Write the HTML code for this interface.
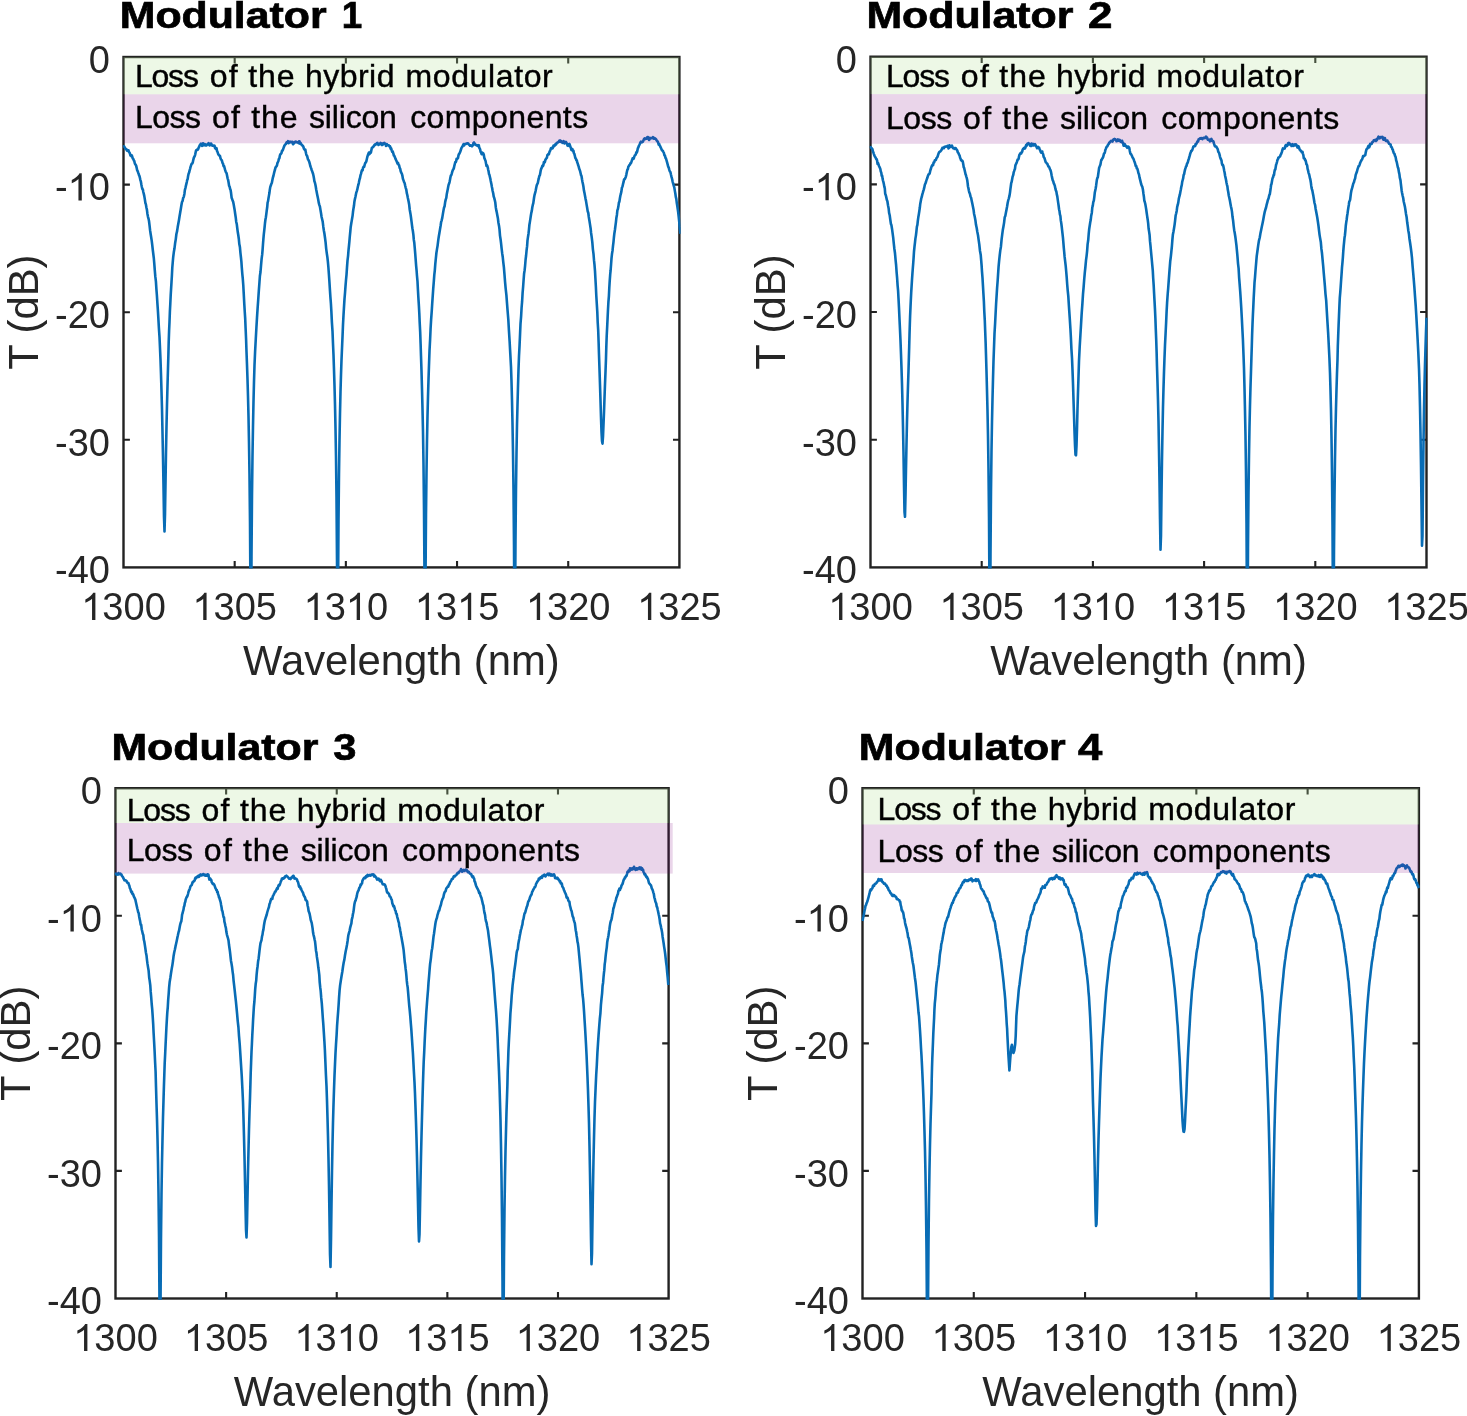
<!DOCTYPE html>
<html><head><meta charset="utf-8"><title>Modulators</title>
<style>html,body{margin:0;padding:0;background:#fff;overflow:hidden;}svg{display:block;will-change:transform;}
text{font-family:"Liberation Sans", sans-serif;}</style></head><body>
<svg width="1467" height="1416" viewBox="0 0 1467 1416">
<rect width="1467" height="1416" fill="#fff"/>
<defs>
<clipPath id="c0"><rect x="122.3" y="55.8" width="558.3" height="512.8"/></clipPath>
<clipPath id="c1"><rect x="869.3" y="55.5" width="558.4" height="513.1"/></clipPath>
<clipPath id="c2"><rect x="114.3" y="787.0" width="555.5" height="512.7"/></clipPath>
<clipPath id="c3"><rect x="861.3" y="787.0" width="558.8" height="512.7"/></clipPath>
</defs>
<rect x="123.5" y="57.0" width="555.9" height="510.4" fill="none" stroke="#222222" stroke-width="2.4"/>
<path d="M234.68,567.4V561.00M234.68,57.0V63.40M345.86,567.4V561.00M345.86,57.0V63.40M457.04,567.4V561.00M457.04,57.0V63.40M568.22,567.4V561.00M568.22,57.0V63.40M123.5,184.60H129.90M679.4,184.60H673.00M123.5,312.20H129.90M679.4,312.20H673.00M123.5,439.80H129.90M679.4,439.80H673.00" stroke="#222222" stroke-width="2.1" fill="none"/>
<path d="M123.5,147.0 124.0,146.3 124.5,147.0 125.0,148.0 125.5,149.0 126.0,148.8 126.5,149.6 127.0,150.6 127.5,150.1 128.0,150.2 128.5,150.3 128.9,151.9 129.4,152.5 129.9,153.4 130.4,155.5 130.9,155.6 131.4,156.2 131.8,155.4 132.3,157.0 132.8,158.6 133.3,159.0 133.8,160.4 134.3,161.1 134.7,163.0 135.2,164.2 135.7,164.8 136.2,165.9 136.6,167.6 137.1,170.1 137.6,171.0 138.1,172.4 138.5,173.4 139.0,175.1 139.5,176.1 140.0,178.3 140.4,180.1 140.9,181.7 141.4,184.7 141.8,186.8 142.3,189.0 142.8,189.3 143.3,192.0 143.8,193.9 144.3,196.1 144.8,199.1 145.4,203.0 145.9,204.4 146.4,207.5 146.9,209.6 147.4,213.7 148.0,216.8 148.5,218.6 149.0,221.0 149.6,225.9 150.1,230.4 150.6,233.7 151.1,236.7 151.7,240.6 152.2,244.7 152.8,250.0 153.3,254.0 153.8,258.0 154.3,263.8 154.8,270.4 155.3,276.4 155.9,281.4 156.4,289.1 156.9,295.5 157.4,303.3 157.9,310.7 158.4,319.1 158.9,328.1 159.5,336.9 160.0,348.2 160.5,359.9 161.0,374.5 161.5,391.1 162.0,409.0 162.5,432.7 163.0,457.1 163.5,486.0 164.0,517.0 164.5,531.5 165.0,514.5 165.5,483.6 166.0,452.2 166.5,426.4 167.0,404.5 167.5,385.6 168.0,368.3 168.4,354.4 168.7,342.1 169.1,330.6 169.5,322.0 169.9,311.3 170.3,303.7 170.7,295.1 171.1,288.6 171.5,282.1 171.9,275.5 172.3,267.5 172.8,261.6 173.2,257.1 173.8,252.3 174.5,248.3 175.1,243.3 175.8,239.1 176.4,234.0 177.1,231.1 177.7,227.1 178.3,223.8 178.9,220.4 179.6,216.0 180.2,212.6 180.8,209.0 181.4,205.3 182.0,202.0 182.6,200.9 183.2,197.8 183.8,196.8 184.4,193.9 184.9,189.8 185.4,188.1 185.8,186.3 186.3,184.1 186.8,182.1 187.2,180.1 187.7,178.9 188.1,176.0 188.6,173.8 189.1,172.6 189.5,170.9 190.0,169.1 190.5,167.1 190.9,165.8 191.4,164.3 191.9,163.6 192.4,163.3 192.8,162.2 193.3,159.8 193.8,157.9 194.3,156.8 194.7,156.2 195.2,154.6 195.7,152.1 196.1,150.3 196.6,150.4 197.1,149.5 197.6,149.8 198.1,149.4 198.5,148.0 199.0,147.1 199.5,145.8 200.0,144.7 200.5,144.3 201.0,143.7 201.5,144.8 202.0,145.8 202.5,145.2 203.0,143.2 203.5,143.8 204.0,145.3 204.5,145.1 205.0,144.1 205.5,145.4 206.0,144.7 206.5,145.4 207.0,144.4 207.5,144.2 208.0,144.4 208.5,143.2 209.0,144.4 209.5,145.3 210.0,143.9 210.5,145.1 211.0,143.5 211.5,144.3 212.0,145.6 212.5,145.6 213.0,145.6 213.5,145.6 214.0,146.1 214.5,145.6 215.0,148.1 215.5,148.6 216.0,149.0 216.5,148.1 217.0,150.9 217.5,151.8 218.0,153.5 218.5,154.7 219.0,155.0 219.5,155.8 220.0,156.0 220.5,158.3 221.0,159.4 221.5,159.9 222.0,160.9 222.5,163.0 223.0,163.6 223.6,166.2 224.1,166.1 224.6,168.0 225.1,169.9 225.6,171.4 226.1,172.6 226.6,173.3 227.1,175.8 227.6,178.3 228.1,179.8 228.6,182.6 229.1,185.8 229.6,186.6 230.1,188.9 230.6,190.0 231.1,193.3 231.6,197.7 232.1,198.9 232.7,200.8 233.2,201.9 233.7,204.6 234.2,207.5 234.7,210.3 235.2,214.0 235.7,217.2 236.2,221.7 236.8,224.3 237.3,228.5 237.8,232.3 238.3,235.3 238.8,238.7 239.3,244.1 239.9,246.9 240.4,252.6 240.9,257.0 241.4,261.9 241.8,267.7 242.3,273.8 242.8,278.9 243.3,285.5 243.7,292.9 244.2,302.4 244.7,311.0 245.2,318.6 245.6,328.2 246.1,339.7 246.5,351.8 247.0,364.9 247.5,379.2 248.0,396.3 248.5,416.5 249.0,443.0 249.5,475.2 250.0,522.5 250.5,598.6 251.0,659.0 251.5,556.7 252.0,495.3 252.5,455.4 253.0,426.1 253.5,401.5 254.0,381.5 254.5,365.3 255.1,351.5 255.8,338.5 256.4,327.8 257.0,317.6 257.6,308.3 258.2,300.0 258.8,291.1 259.4,283.0 259.9,276.0 260.5,272.0 261.1,264.6 261.6,258.9 262.2,254.4 262.6,249.6 263.0,244.0 263.4,238.9 263.8,234.4 264.2,230.8 264.6,227.2 265.0,223.0 265.4,219.8 265.9,217.2 266.3,214.2 266.7,210.8 267.2,207.3 267.6,202.6 268.0,201.4 268.5,198.3 268.9,195.9 269.4,193.1 269.8,189.8 270.3,186.9 270.8,185.5 271.3,184.0 271.8,183.0 272.3,180.6 272.9,177.5 273.4,176.0 273.9,173.7 274.4,171.6 274.9,170.0 275.4,167.9 275.9,166.9 276.4,166.3 276.9,165.7 277.4,163.1 277.9,162.1 278.4,160.9 278.9,158.8 279.4,158.3 279.9,155.5 280.4,154.2 281.0,153.7 281.5,153.0 282.0,150.7 282.5,150.6 283.0,149.6 283.5,148.1 284.0,146.7 284.5,145.7 285.0,144.6 285.5,144.3 286.0,143.9 286.5,142.4 287.0,142.0 287.5,142.5 288.0,141.2 288.5,143.2 289.0,142.8 289.5,142.1 290.0,141.5 290.5,141.8 291.0,142.3 291.5,141.9 292.0,142.2 292.5,141.9 293.0,144.3 293.5,143.3 294.0,143.5 294.5,142.4 295.0,141.8 295.5,141.5 296.0,142.2 296.5,141.9 297.0,142.4 297.5,142.2 298.0,142.4 298.5,143.1 299.0,141.4 299.5,141.4 300.0,143.6 300.5,142.8 301.0,144.2 301.5,144.4 302.0,145.0 302.4,145.7 302.9,145.8 303.4,146.8 303.9,148.7 304.3,149.2 304.8,149.8 305.3,149.6 305.7,151.7 306.2,154.1 306.6,155.4 307.1,155.9 307.6,157.9 308.0,159.5 308.5,159.9 309.0,161.2 309.4,162.3 309.9,164.2 310.3,166.0 310.8,167.4 311.3,168.7 311.7,170.2 312.2,171.3 312.6,172.5 313.1,174.0 313.5,175.7 314.0,178.5 314.4,181.2 314.8,182.2 315.3,184.3 315.7,186.3 316.2,189.5 316.6,191.6 317.1,194.2 317.7,197.0 318.2,199.6 318.8,202.9 319.3,204.9 319.9,206.5 320.5,210.1 321.0,213.0 321.6,217.0 322.2,219.5 322.7,221.6 323.3,226.7 323.9,230.7 324.4,233.5 325.0,237.8 325.6,242.4 326.2,248.8 326.8,253.3 327.4,257.4 327.9,261.8 328.4,267.5 328.9,274.4 329.4,281.5 329.9,289.6 330.4,297.2 330.9,303.5 331.4,312.1 331.9,322.4 332.5,331.1 333.0,343.8 333.5,355.0 334.0,369.7 334.5,385.8 335.0,404.6 335.5,428.1 336.0,456.9 336.5,497.6 337.0,559.6 337.5,661.0 338.0,598.0 338.5,521.6 339.0,473.7 339.5,440.0 340.0,413.6 340.5,391.4 341.0,374.6 341.5,360.0 342.0,348.5 342.5,337.0 343.0,324.6 343.5,315.2 344.0,306.9 344.5,298.8 345.0,293.0 345.5,286.1 346.0,280.0 346.5,274.8 347.0,267.3 347.5,260.6 348.1,255.6 348.5,250.3 348.9,246.5 349.4,241.4 349.8,236.5 350.3,231.5 350.7,227.0 351.2,223.8 351.7,220.9 352.1,218.5 352.6,215.6 353.0,211.8 353.5,208.4 354.0,205.6 354.4,201.7 354.9,199.1 355.4,197.0 355.8,195.0 356.3,192.6 356.8,191.1 357.3,189.4 357.9,186.5 358.4,184.7 358.9,182.6 359.5,179.5 360.0,178.0 360.5,175.2 361.0,173.9 361.6,171.3 362.1,170.0 362.6,170.3 363.1,167.6 363.7,166.5 364.2,166.7 364.7,164.7 365.2,163.0 365.7,162.6 366.3,161.4 366.8,159.3 367.3,157.0 367.8,155.4 368.3,153.9 368.8,152.7 369.3,154.3 369.9,153.5 370.4,151.8 370.9,152.6 371.4,150.0 371.9,147.9 372.4,147.6 373.0,146.9 373.5,146.6 374.0,145.6 374.5,144.9 375.0,144.4 375.5,144.8 376.0,143.9 376.5,144.0 377.0,143.0 377.5,142.9 378.0,144.2 378.5,145.0 379.0,144.3 379.5,144.3 380.0,143.6 380.5,142.9 381.0,143.1 381.5,144.5 382.0,145.0 382.5,143.9 383.0,144.5 383.5,143.2 384.0,143.4 384.5,143.0 385.0,143.8 385.5,143.8 386.0,146.0 386.5,145.2 387.0,144.2 387.5,144.9 388.0,145.4 388.5,145.3 389.0,145.5 389.6,146.6 390.1,146.4 390.6,148.6 391.1,148.2 391.7,150.4 392.2,151.7 392.7,151.3 393.3,153.3 393.8,155.4 394.3,155.8 394.9,157.2 395.4,158.7 395.9,159.7 396.4,160.8 397.0,162.1 397.5,163.5 398.0,162.8 398.6,164.8 399.1,165.2 399.7,168.0 400.2,168.7 400.7,171.2 401.3,172.8 401.8,173.6 402.4,175.7 402.9,178.8 403.5,180.4 404.0,181.8 404.6,183.0 405.2,185.8 405.7,187.8 406.3,189.7 406.8,193.1 407.3,195.0 407.8,197.7 408.2,199.5 408.7,202.1 409.2,204.8 409.7,209.5 410.1,211.7 410.6,214.6 411.1,218.2 411.5,221.4 412.0,225.4 412.4,228.3 412.9,231.3 413.4,234.9 413.8,239.7 414.3,242.8 414.7,247.3 415.2,253.4 415.6,258.7 416.1,265.4 416.6,270.7 417.0,276.0 417.5,281.5 417.9,289.2 418.4,298.1 418.9,305.8 419.3,313.2 419.7,322.7 420.2,332.4 420.6,343.7 421.0,356.0 421.5,371.0 422.0,389.1 422.5,408.9 423.0,431.6 423.5,464.2 424.0,509.2 424.5,575.7 425.0,668.5 425.5,581.7 426.0,514.7 426.5,472.7 427.0,440.5 427.5,415.9 428.0,396.4 428.5,379.6 429.0,365.0 429.5,351.0 430.1,339.7 430.6,328.3 431.1,319.9 431.7,311.6 432.2,303.7 432.7,296.4 433.2,289.2 433.8,281.7 434.3,274.8 434.8,270.3 435.3,263.8 435.8,258.9 436.4,253.0 437.0,249.1 437.6,245.6 438.2,240.7 438.8,236.4 439.4,233.1 440.0,229.4 440.6,225.8 441.1,222.2 441.7,220.3 442.3,217.6 442.9,213.9 443.5,210.4 444.0,207.8 444.6,206.2 445.2,201.9 445.7,199.6 446.3,197.8 446.8,193.9 447.4,191.0 447.9,188.5 448.3,186.3 448.7,184.4 449.1,183.7 449.6,181.8 450.0,179.7 450.4,177.6 450.8,175.7 451.3,175.1 451.7,173.9 452.1,172.3 452.6,170.7 453.0,169.7 453.5,169.2 453.9,168.0 454.4,165.6 454.8,164.0 455.3,162.0 455.7,162.3 456.2,161.0 456.6,158.7 457.1,159.2 457.5,158.4 458.0,158.0 458.5,155.3 458.9,154.2 459.4,153.6 459.9,152.5 460.3,151.6 460.8,150.0 461.3,148.5 461.7,147.5 462.2,146.9 462.7,145.9 463.1,145.0 463.6,144.0 464.1,145.5 464.5,144.6 465.0,144.1 465.5,143.8 466.0,143.9 466.5,143.8 467.0,143.3 467.5,143.2 468.0,143.2 468.5,144.1 469.0,144.8 469.5,144.9 470.0,145.7 470.5,145.2 471.0,145.2 471.5,145.9 472.0,146.4 472.5,145.6 473.0,145.2 473.5,142.9 474.0,142.5 474.5,143.5 475.0,144.0 475.5,144.7 476.0,145.1 476.5,145.1 477.0,145.1 477.4,145.8 477.9,145.4 478.4,145.7 478.8,145.2 479.3,147.9 479.7,148.3 480.2,149.7 480.6,151.8 481.1,152.4 481.6,154.2 482.0,154.3 482.5,152.7 482.9,153.2 483.4,153.6 483.8,154.7 484.3,157.9 484.7,158.8 485.2,160.1 485.6,161.1 486.0,163.4 486.5,166.0 486.9,165.1 487.3,165.8 487.8,167.5 488.2,169.8 488.6,171.4 489.0,174.1 489.4,174.7 489.8,176.5 490.3,178.6 490.7,180.8 491.1,182.7 491.5,184.6 491.9,187.0 492.2,188.3 492.6,190.7 493.2,193.3 493.7,196.5 494.2,197.9 494.7,199.8 495.3,202.6 495.8,207.4 496.3,210.4 496.8,212.5 497.4,215.8 497.9,218.3 498.4,222.5 499.0,225.7 499.5,229.4 500.0,235.6 500.6,239.5 501.1,243.6 501.6,248.3 502.2,253.4 502.7,256.7 503.3,262.3 503.9,267.4 504.5,274.7 505.1,282.4 505.7,288.8 506.4,295.1 507.0,303.2 507.6,310.9 508.3,319.3 508.9,329.9 509.6,341.0 510.3,353.9 511.0,366.7 511.5,381.5 512.0,400.4 512.5,423.7 513.0,452.5 513.5,490.1 514.0,544.9 514.5,640.9 515.0,621.5 515.5,539.5 516.0,489.0 516.5,452.8 517.0,425.1 517.5,404.7 518.0,386.4 518.5,369.4 519.0,356.0 519.5,346.6 520.0,335.4 520.5,323.8 521.1,316.4 521.6,307.5 522.1,301.7 522.6,292.9 523.1,287.0 523.6,280.0 524.1,273.5 524.6,270.4 525.1,265.6 525.6,259.5 526.1,255.5 526.6,250.2 527.1,246.2 527.5,240.4 528.0,236.9 528.5,233.7 529.0,229.2 529.4,224.8 529.9,221.9 530.4,218.6 530.9,215.3 531.3,212.9 531.8,210.9 532.3,207.3 532.8,204.9 533.3,203.2 533.8,199.5 534.2,196.7 534.7,194.3 535.2,192.7 535.7,190.5 536.2,187.8 536.7,185.4 537.2,184.3 537.8,182.9 538.3,180.4 538.8,178.4 539.3,176.0 539.8,175.4 540.3,172.9 540.8,170.1 541.3,168.5 541.8,167.6 542.3,165.9 542.9,166.1 543.4,165.0 543.9,162.0 544.4,162.5 544.9,162.0 545.4,159.7 545.9,159.1 546.4,158.2 546.9,157.8 547.4,154.9 547.9,154.7 548.4,153.9 548.9,154.3 549.4,152.2 549.9,151.2 550.4,150.0 551.0,148.1 551.5,147.9 552.0,148.5 552.5,148.5 553.0,147.4 553.5,145.6 554.0,146.3 554.5,145.8 555.0,145.2 555.5,144.1 556.0,144.5 556.5,143.6 557.0,142.7 557.5,142.6 558.0,142.5 558.5,141.8 559.0,141.4 559.5,140.5 560.0,141.7 560.5,140.7 561.0,141.1 561.5,142.1 562.0,142.2 562.5,142.8 563.0,142.2 563.5,141.1 564.0,143.0 564.5,143.4 565.0,142.2 565.5,142.5 566.0,141.9 566.5,143.4 567.0,143.5 567.5,145.6 568.0,145.8 568.5,144.9 569.0,144.3 569.4,143.9 569.9,145.2 570.4,146.9 570.9,147.9 571.4,150.0 571.9,149.1 572.4,149.1 572.9,151.1 573.4,150.6 573.9,153.2 574.3,153.7 574.8,155.6 575.3,158.0 575.8,158.3 576.3,160.2 576.8,160.2 577.2,162.3 577.7,163.5 578.2,165.3 578.7,166.6 579.2,168.7 579.6,169.6 580.1,171.1 580.6,173.2 581.1,175.4 581.5,176.0 582.0,179.3 582.5,182.1 582.9,183.8 583.4,186.4 583.9,190.3 584.4,192.6 584.9,195.3 585.5,198.6 586.0,200.9 586.6,204.6 587.1,207.5 587.7,211.3 588.3,213.0 588.8,217.0 589.4,220.5 590.0,224.4 590.6,228.2 591.1,233.0 591.7,237.1 592.3,242.1 592.9,249.3 593.5,253.8 594.0,260.2 594.5,264.9 595.0,271.1 595.4,278.2 595.9,287.3 596.3,295.8 596.8,303.9 597.3,312.2 597.7,322.2 598.2,330.5 598.6,341.8 599.0,354.7 599.5,369.5 600.0,384.7 600.5,400.8 601.0,417.4 601.5,432.0 602.0,440.9 602.5,443.6 603.0,436.7 603.5,424.5 604.0,412.2 604.5,397.9 605.0,384.1 605.5,371.7 606.0,358.3 606.3,347.3 606.7,336.0 607.2,326.3 607.6,317.9 608.0,309.5 608.4,302.2 608.9,296.1 609.3,287.7 609.7,281.1 610.2,274.4 610.6,270.5 611.1,264.0 611.5,258.3 612.0,253.8 612.5,250.9 613.0,245.8 613.5,241.8 613.9,237.5 614.4,233.2 614.9,230.0 615.4,226.1 615.9,222.3 616.4,217.7 616.9,214.9 617.4,210.2 617.9,209.0 618.4,206.3 618.9,202.6 619.4,201.6 619.9,198.2 620.4,195.5 620.9,193.7 621.4,191.4 621.9,187.8 622.5,186.4 623.0,184.2 623.6,181.9 624.1,179.3 624.6,179.4 625.2,178.4 625.7,177.1 626.3,174.8 626.8,172.2 627.3,170.0 627.9,169.0 628.4,166.6 628.9,166.0 629.5,164.7 630.0,164.7 630.5,163.1 631.0,163.1 631.6,161.3 632.1,160.1 632.6,158.3 633.1,158.5 633.7,158.7 634.2,156.9 634.7,155.6 635.2,155.0 635.7,154.7 636.3,152.3 636.8,152.5 637.3,151.0 637.8,148.4 638.3,147.5 638.8,146.0 639.4,144.8 639.9,143.7 640.4,142.4 640.9,141.7 641.4,141.9 641.9,142.4 642.4,141.8 642.9,141.6 643.4,140.5 644.0,139.1 644.5,138.4 645.0,139.1 645.5,138.7 646.0,138.5 646.5,138.7 647.0,137.4 647.5,137.0 648.0,137.0 648.5,138.2 649.0,139.9 649.5,139.5 650.0,137.9 650.5,138.1 651.0,138.0 651.5,138.2 652.0,137.9 652.5,138.1 653.0,137.1 653.5,138.0 654.0,138.7 654.5,138.1 655.0,138.4 655.6,138.8 656.1,139.4 656.6,140.4 657.1,141.0 657.6,141.5 658.1,142.4 658.7,144.7 659.2,144.0 659.7,145.3 660.2,146.5 660.7,147.4 661.3,148.7 661.8,150.0 662.3,150.6 662.8,150.7 663.4,152.1 663.9,152.9 664.4,155.3 665.0,155.7 665.5,158.0 666.0,158.5 666.6,160.6 667.1,162.4 667.7,164.6 668.2,166.7 668.8,167.9 669.3,169.9 669.8,171.3 670.4,172.0 671.0,174.8 671.5,176.9 672.1,179.0 672.6,181.6 673.2,183.7 673.8,185.8 674.3,187.5 674.9,191.1 675.4,194.0 675.8,196.9 676.3,198.9 676.8,203.1 677.3,206.1 677.7,208.9 678.2,212.3 678.7,216.9 679.2,221.5 679.6,226.7 680.1,230.6 680.5,233.8" fill="none" stroke="#086CB5" stroke-width="2.6" stroke-linejoin="round" clip-path="url(#c0)"/>
<rect x="123.5" y="57.0" width="555.9" height="37.3" fill="rgb(183,227,155)" fill-opacity="0.25"/>
<rect x="123.5" y="94.3" width="555.9" height="49.0" fill="rgb(128,0,128)" fill-opacity="0.165"/>
<text x="134.92" y="86.90" font-size="32" textLength="63.99" lengthAdjust="spacing" fill="#000" stroke="#000" stroke-width="0.4">Loss</text>
<text x="209.67" y="86.90" font-size="32" textLength="28.04" lengthAdjust="spacing" fill="#000" stroke="#000" stroke-width="0.4">of</text>
<text x="248.20" y="86.90" font-size="32" textLength="46.39" lengthAdjust="spacing" fill="#000" stroke="#000" stroke-width="0.4">the</text>
<text x="304.95" y="86.90" font-size="32" textLength="89.55" lengthAdjust="spacing" fill="#000" stroke="#000" stroke-width="0.4">hybrid</text>
<text x="405.45" y="86.90" font-size="32" textLength="147.26" lengthAdjust="spacing" fill="#000" stroke="#000" stroke-width="0.4">modulator</text>
<text x="134.92" y="127.80" font-size="32" textLength="66.19" lengthAdjust="spacing" fill="#000" stroke="#000" stroke-width="0.4">Loss</text>
<text x="211.97" y="127.80" font-size="32" textLength="28.04" lengthAdjust="spacing" fill="#000" stroke="#000" stroke-width="0.4">of</text>
<text x="251.20" y="127.80" font-size="32" textLength="46.39" lengthAdjust="spacing" fill="#000" stroke="#000" stroke-width="0.4">the</text>
<text x="308.97" y="127.80" font-size="32" textLength="87.94" lengthAdjust="spacing" fill="#000" stroke="#000" stroke-width="0.4">silicon</text>
<text x="410.17" y="127.80" font-size="32" textLength="177.96" lengthAdjust="spacing" fill="#000" stroke="#000" stroke-width="0.4">components</text>
<text x="119.71" y="27.90" font-size="37.4" font-weight="bold" textLength="207.00" lengthAdjust="spacingAndGlyphs" fill="#000" stroke="#000" stroke-width="0.7">Modulator</text>
<text x="341.73" y="27.90" font-size="37.4" font-weight="bold" textLength="20.45" lengthAdjust="spacingAndGlyphs" fill="#000" stroke="#000" stroke-width="0.7">1</text>
<text x="88.77" y="72.80" font-size="38" fill="#262626">0</text>
<text x="54.98" y="200.40" font-size="38" fill="#262626">-</text>
<path transform="translate(67.63,200.40) scale(0.018555,-0.018555)" d="M763 0H583V1147Q518 1085 412 1023T223 930V1104Q373 1174 485 1274T645 1466H763Z" fill="#262626"/>
<text x="88.77" y="200.40" font-size="38" fill="#262626">0</text>
<text x="54.98" y="328.00" font-size="38" fill="#262626">-</text>
<text x="67.63" y="328.00" font-size="38" fill="#262626">2</text>
<text x="88.77" y="328.00" font-size="38" fill="#262626">0</text>
<text x="54.98" y="455.60" font-size="38" fill="#262626">-</text>
<text x="67.63" y="455.60" font-size="38" fill="#262626">3</text>
<text x="88.77" y="455.60" font-size="38" fill="#262626">0</text>
<text x="54.98" y="583.20" font-size="38" fill="#262626">-</text>
<text x="67.63" y="583.20" font-size="38" fill="#262626">4</text>
<text x="88.77" y="583.20" font-size="38" fill="#262626">0</text>
<path transform="translate(81.23,620.00) scale(0.018555,-0.018555)" d="M763 0H583V1147Q518 1085 412 1023T223 930V1104Q373 1174 485 1274T645 1466H763Z" fill="#262626"/>
<text x="102.37" y="620.00" font-size="38" fill="#262626">3</text>
<text x="123.50" y="620.00" font-size="38" fill="#262626">0</text>
<text x="144.63" y="620.00" font-size="38" fill="#262626">0</text>
<path transform="translate(192.41,620.00) scale(0.018555,-0.018555)" d="M763 0H583V1147Q518 1085 412 1023T223 930V1104Q373 1174 485 1274T645 1466H763Z" fill="#262626"/>
<text x="213.55" y="620.00" font-size="38" fill="#262626">3</text>
<text x="234.68" y="620.00" font-size="38" fill="#262626">0</text>
<text x="255.81" y="620.00" font-size="38" fill="#262626">5</text>
<path transform="translate(303.59,620.00) scale(0.018555,-0.018555)" d="M763 0H583V1147Q518 1085 412 1023T223 930V1104Q373 1174 485 1274T645 1466H763Z" fill="#262626"/>
<text x="324.73" y="620.00" font-size="38" fill="#262626">3</text>
<path transform="translate(345.86,620.00) scale(0.018555,-0.018555)" d="M763 0H583V1147Q518 1085 412 1023T223 930V1104Q373 1174 485 1274T645 1466H763Z" fill="#262626"/>
<text x="366.99" y="620.00" font-size="38" fill="#262626">0</text>
<path transform="translate(414.77,620.00) scale(0.018555,-0.018555)" d="M763 0H583V1147Q518 1085 412 1023T223 930V1104Q373 1174 485 1274T645 1466H763Z" fill="#262626"/>
<text x="435.91" y="620.00" font-size="38" fill="#262626">3</text>
<path transform="translate(457.04,620.00) scale(0.018555,-0.018555)" d="M763 0H583V1147Q518 1085 412 1023T223 930V1104Q373 1174 485 1274T645 1466H763Z" fill="#262626"/>
<text x="478.17" y="620.00" font-size="38" fill="#262626">5</text>
<path transform="translate(525.95,620.00) scale(0.018555,-0.018555)" d="M763 0H583V1147Q518 1085 412 1023T223 930V1104Q373 1174 485 1274T645 1466H763Z" fill="#262626"/>
<text x="547.09" y="620.00" font-size="38" fill="#262626">3</text>
<text x="568.22" y="620.00" font-size="38" fill="#262626">2</text>
<text x="589.35" y="620.00" font-size="38" fill="#262626">0</text>
<path transform="translate(637.13,620.00) scale(0.018555,-0.018555)" d="M763 0H583V1147Q518 1085 412 1023T223 930V1104Q373 1174 485 1274T645 1466H763Z" fill="#262626"/>
<text x="658.27" y="620.00" font-size="38" fill="#262626">3</text>
<text x="679.40" y="620.00" font-size="38" fill="#262626">2</text>
<text x="700.53" y="620.00" font-size="38" fill="#262626">5</text>
<text x="401.4" y="674.9" font-size="41.8" text-anchor="middle" fill="#262626">Wavelength (nm)</text>
<text transform="translate(38.0,312.2) rotate(-90)" x="0" y="0" font-size="41.8" text-anchor="middle" fill="#262626">T (dB)</text>
<rect x="870.5" y="56.7" width="556.0" height="510.7" fill="none" stroke="#222222" stroke-width="2.4"/>
<path d="M981.70,567.4V561.00M981.70,56.7V63.10M1092.90,567.4V561.00M1092.90,56.7V63.10M1204.10,567.4V561.00M1204.10,56.7V63.10M1315.30,567.4V561.00M1315.30,56.7V63.10M870.5,184.38H876.90M1426.5,184.38H1420.10M870.5,312.05H876.90M1426.5,312.05H1420.10M870.5,439.72H876.90M1426.5,439.72H1420.10" stroke="#222222" stroke-width="2.1" fill="none"/>
<path d="M870.5,146.2 871.0,147.7 871.5,148.0 872.0,148.7 872.4,149.1 872.9,151.4 873.4,152.5 873.8,153.8 874.3,155.3 874.8,156.4 875.3,157.1 875.7,157.8 876.2,159.1 876.7,159.3 877.1,160.7 877.6,164.0 878.1,163.2 878.5,164.4 879.0,166.0 879.4,166.8 879.9,167.9 880.4,169.3 880.8,171.6 881.3,172.8 881.7,175.7 882.2,175.8 882.6,178.8 883.0,180.6 883.5,182.4 883.9,184.2 884.3,186.6 884.8,188.4 885.2,193.7 885.8,195.3 886.3,197.4 886.9,200.1 887.4,201.3 888.0,205.3 888.6,208.2 889.1,212.9 889.7,215.3 890.3,219.7 890.9,223.9 891.4,225.0 892.0,228.7 892.6,233.2 893.2,237.7 893.8,243.6 894.4,249.0 895.0,253.3 895.6,260.2 896.1,265.0 896.6,272.2 897.1,277.9 897.6,285.3 898.1,290.9 898.5,298.4 899.0,308.1 899.5,319.2 900.0,329.8 900.5,340.9 901.0,354.3 901.5,368.2 902.0,384.0 902.5,403.6 903.0,427.0 903.5,453.5 904.0,485.0 904.5,512.2 905.0,516.8 905.5,495.5 906.0,468.8 906.5,443.9 907.0,421.1 907.5,402.1 908.0,385.8 908.5,370.7 908.9,356.7 909.2,346.6 909.5,335.3 909.8,325.3 910.1,316.2 910.5,307.1 910.8,300.6 911.2,292.6 911.6,286.1 912.0,279.7 912.4,273.9 912.8,268.5 913.2,263.5 913.6,257.9 914.0,251.5 914.5,246.7 915.0,242.4 915.4,238.6 915.9,235.6 916.4,231.5 916.9,226.6 917.4,224.9 917.8,221.0 918.3,217.3 918.8,214.5 919.3,211.3 919.8,207.8 920.2,204.1 920.7,201.5 921.2,198.7 921.7,197.2 922.2,194.9 922.7,193.2 923.2,191.3 923.7,189.9 924.3,187.4 924.9,184.5 925.5,183.3 926.1,181.5 926.7,179.5 927.3,178.1 927.9,175.9 928.5,174.5 929.1,174.2 929.7,173.3 930.2,170.9 930.8,169.0 931.4,167.0 931.9,165.9 932.5,164.8 933.1,165.1 933.6,162.6 934.2,162.4 934.8,160.4 935.3,160.5 935.9,159.8 936.4,158.3 937.0,157.5 937.5,156.8 938.1,154.8 938.6,153.3 939.2,152.2 939.7,151.7 940.3,151.5 940.8,150.8 941.4,150.1 941.9,149.2 942.4,147.9 943.0,147.8 943.5,148.1 944.0,148.2 944.5,146.7 945.0,146.7 945.5,146.6 946.0,146.6 946.5,146.3 947.0,146.5 947.5,145.8 948.0,145.7 948.5,148.4 949.0,147.9 949.5,145.3 950.0,147.0 950.5,146.9 951.0,146.1 951.5,146.5 952.0,145.7 952.5,147.2 953.0,148.1 953.5,147.9 954.0,148.2 954.5,148.8 955.0,148.0 955.5,148.0 955.9,148.4 956.4,149.3 956.9,149.8 957.4,150.8 957.8,152.3 958.3,152.8 958.7,153.7 959.2,154.9 959.6,155.5 960.1,157.7 960.6,158.8 961.0,160.1 961.5,160.0 961.9,161.0 962.4,160.9 962.8,161.8 963.3,164.4 963.7,167.2 964.2,168.2 964.6,170.0 965.0,171.7 965.5,174.1 965.9,175.0 966.3,176.6 966.8,178.2 967.2,180.0 967.6,182.9 968.0,186.5 968.4,188.1 968.8,190.3 969.3,192.5 969.9,193.7 970.5,196.4 971.1,197.8 971.7,200.8 972.3,203.5 972.9,206.5 973.5,209.4 974.1,214.0 974.7,216.5 975.4,220.2 976.0,224.8 976.7,228.0 977.3,231.8 978.0,235.2 978.6,239.6 979.3,244.5 980.0,251.0 980.7,254.7 981.1,259.4 981.6,265.3 982.0,271.7 982.5,277.9 983.0,286.3 983.4,293.4 983.9,301.9 984.3,311.6 984.8,320.8 985.2,331.2 985.6,341.7 986.0,354.8 986.5,371.7 987.0,390.6 987.5,410.7 988.0,436.0 988.5,469.6 989.0,517.1 989.5,594.0 990.0,661.1 990.5,554.7 991.0,491.2 991.5,450.6 992.0,421.5 992.5,398.8 993.0,379.1 993.5,361.0 994.0,347.5 994.5,333.6 995.1,323.5 995.6,313.5 996.1,303.7 996.6,295.9 997.1,287.9 997.6,281.5 998.1,273.8 998.6,266.4 999.1,261.2 999.7,255.4 1000.3,250.4 1000.9,246.9 1001.6,239.3 1002.2,234.7 1002.8,230.1 1003.5,226.2 1004.1,222.6 1004.7,217.3 1005.3,216.0 1005.9,212.8 1006.5,209.7 1007.1,206.5 1007.7,202.7 1008.2,200.5 1008.8,198.5 1009.4,196.2 1010.0,192.6 1010.4,189.2 1010.8,186.3 1011.2,183.1 1011.6,182.0 1012.1,179.4 1012.5,177.2 1012.9,175.9 1013.3,174.8 1013.7,172.2 1014.1,171.2 1014.6,169.7 1015.0,168.7 1015.4,165.4 1015.9,164.3 1016.3,163.4 1016.8,162.2 1017.2,161.0 1017.6,159.5 1018.1,159.6 1018.6,158.8 1019.0,156.6 1019.5,154.5 1019.9,154.5 1020.4,153.3 1020.8,152.8 1021.3,153.4 1021.8,152.1 1022.2,151.6 1022.7,149.5 1023.2,148.9 1023.7,148.2 1024.1,148.7 1024.6,147.5 1025.1,148.3 1025.6,147.0 1026.1,145.2 1026.5,145.9 1027.0,144.7 1027.5,143.5 1028.0,144.0 1028.5,143.2 1029.0,143.5 1029.5,144.1 1030.0,145.7 1030.5,145.7 1031.0,146.2 1031.5,143.6 1032.0,143.7 1032.5,144.2 1033.0,145.5 1033.5,144.0 1034.0,145.4 1034.5,144.4 1035.0,144.2 1035.5,145.0 1036.0,146.3 1036.5,146.7 1037.1,148.2 1037.6,147.7 1038.1,146.9 1038.6,147.3 1039.1,147.6 1039.6,149.4 1040.1,150.0 1040.6,151.7 1041.1,152.6 1041.7,152.5 1042.2,151.5 1042.7,153.1 1043.2,154.4 1043.7,157.1 1044.2,157.6 1044.8,159.1 1045.3,160.8 1045.8,162.4 1046.3,162.6 1046.9,163.6 1047.4,163.9 1047.9,165.3 1048.4,166.5 1049.0,166.7 1049.5,167.9 1050.0,169.3 1050.5,170.2 1051.1,172.4 1051.6,175.3 1052.1,177.6 1052.7,180.3 1053.2,181.2 1053.7,183.1 1054.3,184.4 1054.8,185.7 1055.4,188.7 1055.9,190.6 1056.4,191.8 1056.8,194.4 1057.3,196.3 1057.7,199.4 1058.2,202.9 1058.6,205.5 1059.1,209.5 1059.5,211.1 1059.9,214.3 1060.4,216.0 1060.8,220.4 1061.3,223.4 1061.7,226.5 1062.1,230.2 1062.5,233.6 1063.0,238.2 1063.4,242.9 1063.8,247.8 1064.2,252.0 1064.6,256.7 1065.1,260.8 1065.7,265.9 1066.2,271.5 1066.7,277.4 1067.2,284.5 1067.7,290.3 1068.3,296.2 1068.8,304.2 1069.3,311.6 1069.8,319.0 1070.4,328.5 1070.9,337.8 1071.4,348.6 1072.0,358.0 1072.5,370.1 1073.0,383.6 1073.5,399.7 1074.0,415.2 1074.5,431.4 1075.0,445.2 1075.5,454.8 1076.0,455.3 1076.5,445.8 1077.0,428.6 1077.5,408.6 1078.0,392.3 1078.5,376.7 1079.0,360.9 1079.7,346.7 1080.4,335.0 1081.1,323.4 1081.7,313.1 1082.4,303.6 1083.0,294.2 1083.6,287.3 1084.2,279.5 1084.8,272.7 1085.4,267.0 1086.0,260.4 1086.6,255.8 1087.1,251.1 1087.6,244.4 1088.2,240.3 1088.7,234.0 1089.2,229.0 1089.7,225.7 1090.2,222.5 1090.7,220.1 1091.2,215.7 1091.8,212.9 1092.3,207.5 1092.8,205.6 1093.3,201.9 1093.8,200.7 1094.3,197.1 1094.8,192.6 1095.3,190.2 1095.7,188.2 1096.1,185.7 1096.5,182.7 1096.9,179.6 1097.4,177.9 1097.8,177.4 1098.2,174.5 1098.6,171.6 1099.1,168.0 1099.5,166.9 1100.0,165.6 1100.4,164.7 1100.8,162.6 1101.3,159.9 1101.7,159.9 1102.2,158.6 1102.6,158.1 1103.1,157.1 1103.5,155.6 1104.0,153.7 1104.5,153.2 1104.9,152.1 1105.4,149.8 1105.9,148.7 1106.3,147.5 1106.8,146.7 1107.3,146.4 1107.7,145.4 1108.2,144.5 1108.7,144.1 1109.2,142.8 1109.6,142.7 1110.1,141.7 1110.6,141.6 1111.1,140.8 1111.6,141.3 1112.1,141.3 1112.5,141.7 1113.0,140.0 1113.5,139.5 1114.0,139.3 1114.5,138.8 1115.0,139.7 1115.5,139.4 1116.0,139.8 1116.5,141.2 1117.0,140.7 1117.5,141.0 1118.0,139.4 1118.5,140.2 1119.0,140.7 1119.5,139.8 1120.0,140.2 1120.5,141.6 1121.0,141.3 1121.5,142.1 1122.1,140.8 1122.6,142.4 1123.1,143.3 1123.6,145.7 1124.1,145.7 1124.6,143.9 1125.1,144.7 1125.7,146.1 1126.2,146.3 1126.7,147.1 1127.2,147.8 1127.7,146.5 1128.3,146.5 1128.8,147.2 1129.3,148.0 1129.8,150.9 1130.4,153.8 1130.9,154.0 1131.4,154.8 1132.0,156.0 1132.5,157.4 1133.0,158.1 1133.6,159.2 1134.1,160.7 1134.6,161.9 1135.2,163.9 1135.7,165.8 1136.3,166.2 1136.8,168.4 1137.3,168.7 1137.9,170.7 1138.4,173.1 1139.0,174.5 1139.5,177.4 1140.1,179.7 1140.7,182.1 1141.2,184.2 1141.8,185.9 1142.3,186.7 1142.9,189.5 1143.4,193.4 1143.9,196.7 1144.3,200.5 1144.8,202.0 1145.3,204.0 1145.8,206.9 1146.3,210.0 1146.7,213.0 1147.2,216.4 1147.7,219.7 1148.2,223.6 1148.6,228.5 1149.1,231.6 1149.6,235.0 1150.0,241.2 1150.5,245.8 1151.0,251.3 1151.4,255.6 1151.9,261.0 1152.3,265.4 1152.8,270.9 1153.2,278.3 1153.7,285.6 1154.1,293.4 1154.5,300.6 1155.0,309.9 1155.4,318.5 1155.8,329.6 1156.2,339.5 1156.6,351.5 1157.0,366.5 1157.5,382.6 1158.0,400.5 1158.5,421.8 1159.0,450.4 1159.5,481.9 1160.0,519.1 1160.5,549.7 1161.0,535.6 1161.5,494.8 1162.0,459.2 1162.5,430.5 1163.0,406.7 1163.5,388.3 1164.0,371.9 1164.5,357.8 1165.0,345.2 1165.6,333.2 1166.1,323.0 1166.6,311.6 1167.1,302.6 1167.7,294.0 1168.2,288.2 1168.7,281.1 1169.2,274.4 1169.7,267.9 1170.2,261.7 1170.8,256.9 1171.3,252.2 1171.9,246.1 1172.4,239.7 1172.9,234.4 1173.5,231.4 1174.0,228.5 1174.6,224.6 1175.1,220.6 1175.6,215.8 1176.2,213.3 1176.7,210.9 1177.2,206.9 1177.8,204.7 1178.3,202.4 1178.8,198.9 1179.4,196.3 1179.9,194.4 1180.4,191.7 1180.9,189.3 1181.3,186.8 1181.8,184.9 1182.2,181.8 1182.7,180.0 1183.2,178.2 1183.6,175.2 1184.1,174.2 1184.6,171.5 1185.1,169.4 1185.5,168.2 1186.0,166.5 1186.5,166.1 1186.9,164.0 1187.4,163.2 1187.9,162.0 1188.4,159.9 1188.8,158.9 1189.3,157.1 1189.8,155.4 1190.3,153.4 1190.8,152.3 1191.2,150.8 1191.7,150.8 1192.2,150.2 1192.7,148.7 1193.2,147.0 1193.7,146.2 1194.1,146.2 1194.6,146.3 1195.1,146.1 1195.6,144.0 1196.1,144.2 1196.6,143.4 1197.1,142.1 1197.6,141.3 1198.1,141.5 1198.6,139.3 1199.0,139.3 1199.5,139.0 1200.0,138.3 1200.5,138.7 1201.0,138.0 1201.5,138.2 1202.0,138.8 1202.5,139.1 1203.0,138.2 1203.5,137.9 1204.0,137.9 1204.5,138.1 1205.0,138.1 1205.5,137.3 1206.0,136.6 1206.5,137.3 1207.0,137.4 1207.5,139.2 1208.0,139.8 1208.5,139.9 1209.0,140.3 1209.5,139.5 1210.0,141.3 1210.4,140.5 1210.9,140.1 1211.4,138.9 1211.9,140.5 1212.4,141.0 1212.9,140.8 1213.4,141.3 1213.9,143.4 1214.3,144.5 1214.8,146.1 1215.3,146.5 1215.8,146.6 1216.3,146.6 1216.7,147.6 1217.2,148.3 1217.7,149.1 1218.2,151.5 1218.6,152.3 1219.1,153.0 1219.6,154.9 1220.1,157.1 1220.5,158.2 1221.0,159.5 1221.5,160.4 1221.9,163.6 1222.4,165.0 1222.8,164.7 1223.3,165.9 1223.8,168.4 1224.2,170.8 1224.7,173.0 1225.1,175.8 1225.6,177.9 1226.0,179.7 1226.5,182.7 1226.9,184.6 1227.4,186.4 1227.8,189.8 1228.3,192.3 1228.8,195.8 1229.3,197.8 1229.8,200.1 1230.4,203.4 1230.9,206.2 1231.5,208.9 1232.0,211.9 1232.5,216.8 1233.1,220.5 1233.6,225.3 1234.2,230.2 1234.7,232.8 1235.3,236.5 1235.8,240.3 1236.4,245.1 1237.0,251.3 1237.5,256.8 1238.0,263.3 1238.6,268.4 1239.1,277.3 1239.6,283.6 1240.2,291.5 1240.7,299.0 1241.2,307.1 1241.8,317.8 1242.3,327.7 1242.9,339.3 1243.5,354.7 1244.0,368.7 1244.5,388.1 1245.0,410.7 1245.5,436.3 1246.0,472.2 1246.5,523.1 1247.0,611.8 1247.5,643.2 1248.0,548.5 1248.5,492.3 1249.0,455.4 1249.5,426.5 1250.0,404.9 1250.5,386.5 1251.0,371.1 1251.4,358.3 1251.8,345.9 1252.1,335.2 1252.5,324.4 1252.9,315.0 1253.3,306.9 1253.7,297.9 1254.1,290.6 1254.5,282.7 1255.0,277.3 1255.4,272.0 1255.8,267.0 1256.3,261.2 1256.7,256.3 1257.4,251.3 1258.2,245.4 1258.9,240.9 1259.7,237.8 1260.4,233.6 1261.1,230.2 1261.8,226.8 1262.5,223.4 1263.2,219.9 1263.9,216.1 1264.6,212.4 1265.3,209.8 1266.0,207.8 1266.6,204.9 1267.3,202.3 1267.9,199.9 1268.6,198.2 1269.2,195.4 1269.8,194.2 1270.4,190.2 1270.8,187.4 1271.1,184.9 1271.5,184.0 1271.9,181.8 1272.4,178.9 1272.8,177.7 1273.2,176.9 1273.6,175.1 1274.0,175.0 1274.4,171.9 1274.8,169.9 1275.3,169.5 1275.7,167.1 1276.1,164.8 1276.6,163.4 1277.0,162.0 1277.4,160.0 1277.9,159.4 1278.3,157.7 1278.8,157.5 1279.2,157.4 1279.7,156.6 1280.1,156.4 1280.6,154.8 1281.0,154.3 1281.5,153.0 1281.9,151.9 1282.4,149.9 1282.9,148.4 1283.3,149.0 1283.8,148.8 1284.3,148.5 1284.7,148.4 1285.2,146.3 1285.7,145.2 1286.1,145.4 1286.6,146.2 1287.1,145.9 1287.5,145.1 1288.0,143.3 1288.5,144.4 1289.0,142.9 1289.5,144.3 1290.0,143.7 1290.5,144.5 1291.0,144.5 1291.5,146.0 1292.0,144.6 1292.5,144.2 1293.0,144.7 1293.5,145.9 1294.0,145.0 1294.5,144.5 1295.0,145.3 1295.5,144.3 1296.0,144.3 1296.5,145.2 1297.0,145.7 1297.4,147.6 1297.9,146.6 1298.4,146.1 1298.8,147.0 1299.3,148.5 1299.7,149.7 1300.2,150.0 1300.7,150.9 1301.1,150.9 1301.6,152.1 1302.0,151.8 1302.5,151.8 1302.9,153.6 1303.4,155.3 1303.8,158.3 1304.2,158.4 1304.7,158.6 1305.1,160.3 1305.5,160.2 1306.0,162.1 1306.4,164.2 1306.8,164.5 1307.2,165.6 1307.6,168.9 1308.1,170.5 1308.5,172.6 1308.9,173.8 1309.3,174.9 1309.7,176.9 1310.0,178.4 1310.4,179.7 1310.8,182.2 1311.2,185.4 1311.6,188.1 1311.9,189.2 1312.3,190.3 1312.9,193.5 1313.4,196.1 1314.0,199.8 1314.5,203.0 1315.1,205.0 1315.6,208.7 1316.2,211.8 1316.8,215.1 1317.3,217.8 1317.9,221.7 1318.5,226.0 1319.0,230.4 1319.6,235.1 1320.2,238.6 1320.8,241.9 1321.4,248.9 1322.0,253.3 1322.6,259.9 1323.2,266.1 1323.7,272.4 1324.3,279.1 1324.9,286.2 1325.5,294.1 1326.2,300.6 1326.8,311.1 1327.4,321.2 1328.1,332.2 1328.7,343.7 1329.4,358.0 1330.0,373.0 1330.5,390.6 1331.0,410.5 1331.5,437.4 1332.0,473.2 1332.5,524.6 1333.0,611.5 1333.5,641.9 1334.0,550.4 1334.5,495.5 1335.0,458.2 1335.5,429.3 1336.0,407.8 1336.5,389.4 1337.0,373.1 1337.5,359.7 1337.8,346.5 1338.2,335.6 1338.6,325.1 1339.0,315.6 1339.4,306.1 1339.8,297.6 1340.3,291.8 1340.7,286.3 1341.1,280.5 1341.6,273.6 1342.0,267.4 1342.5,262.1 1342.9,257.1 1343.3,251.1 1343.7,246.2 1344.1,242.2 1344.5,237.9 1344.9,235.5 1345.4,230.5 1345.8,225.5 1346.2,222.6 1346.6,220.0 1347.1,216.0 1347.5,213.7 1347.9,210.7 1348.4,207.4 1348.8,205.0 1349.2,201.8 1349.7,200.9 1350.1,199.8 1350.6,195.8 1351.0,192.7 1351.5,190.1 1352.1,188.2 1352.7,185.9 1353.3,183.5 1353.9,182.4 1354.5,180.0 1355.1,178.6 1355.7,174.9 1356.3,173.3 1356.9,171.8 1357.4,169.7 1358.0,167.9 1358.6,166.2 1359.2,165.8 1359.7,164.4 1360.3,162.5 1360.9,161.4 1361.4,160.2 1362.0,159.6 1362.5,158.2 1363.1,156.0 1363.6,156.2 1364.2,156.1 1364.7,155.4 1365.3,154.9 1365.8,152.1 1366.4,149.6 1366.9,148.8 1367.5,148.4 1368.0,146.8 1368.5,145.8 1369.1,147.4 1369.6,146.4 1370.2,143.7 1370.7,144.0 1371.2,144.1 1371.7,144.0 1372.3,142.0 1372.8,142.1 1373.3,141.4 1373.8,140.2 1374.4,140.1 1374.9,140.0 1375.4,140.6 1375.9,141.0 1376.4,139.4 1376.9,140.1 1377.5,138.7 1378.0,137.6 1378.5,136.7 1379.0,137.4 1379.5,138.3 1380.0,138.1 1380.5,137.0 1381.0,137.0 1381.5,137.0 1382.0,137.5 1382.5,137.0 1383.0,139.0 1383.5,139.7 1384.0,138.1 1384.5,138.1 1384.9,138.1 1385.4,140.2 1385.9,140.8 1386.4,141.1 1386.9,141.2 1387.3,140.5 1387.8,141.6 1388.3,142.0 1388.7,143.2 1389.2,143.8 1389.7,144.0 1390.1,144.5 1390.6,144.6 1391.0,146.8 1391.5,147.0 1391.9,147.7 1392.4,149.5 1392.8,149.5 1393.2,151.4 1393.7,152.8 1394.1,153.5 1394.5,153.8 1395.0,155.9 1395.4,156.3 1395.8,158.0 1396.2,160.5 1396.6,161.5 1397.0,163.3 1397.5,165.7 1397.9,167.5 1398.3,168.2 1398.6,170.2 1399.0,172.6 1399.4,174.1 1399.8,177.6 1400.2,179.1 1400.5,180.4 1400.9,184.1 1401.3,187.3 1401.6,190.2 1402.0,192.5 1402.6,195.5 1403.2,198.0 1403.7,201.5 1404.3,204.0 1404.9,206.6 1405.4,209.7 1406.0,213.9 1406.6,217.0 1407.2,222.3 1407.8,226.5 1408.3,230.5 1408.9,233.7 1409.5,239.0 1410.2,243.5 1410.8,247.8 1411.4,252.5 1412.0,258.1 1412.6,266.1 1413.2,273.0 1413.8,280.1 1414.4,287.7 1415.0,296.1 1415.7,305.6 1416.3,315.7 1417.0,327.8 1417.6,339.0 1418.3,352.4 1419.0,368.4 1419.5,384.9 1420.0,406.6 1420.5,433.3 1421.0,465.2 1421.5,505.8 1422.0,545.7 1422.5,535.9 1423.0,484.5 1423.5,442.3 1424.0,409.5 1424.5,384.3 1425.0,364.5 1425.5,347.7 1426.0,331.8 1426.5,317.8" fill="none" stroke="#086CB5" stroke-width="2.6" stroke-linejoin="round" clip-path="url(#c1)"/>
<rect x="870.5" y="56.7" width="556.0" height="37.4" fill="rgb(183,227,155)" fill-opacity="0.25"/>
<rect x="870.5" y="94.1" width="556.0" height="49.7" fill="rgb(128,0,128)" fill-opacity="0.165"/>
<text x="886.02" y="87.40" font-size="32" textLength="63.99" lengthAdjust="spacing" fill="#000" stroke="#000" stroke-width="0.4">Loss</text>
<text x="960.77" y="87.40" font-size="32" textLength="28.04" lengthAdjust="spacing" fill="#000" stroke="#000" stroke-width="0.4">of</text>
<text x="999.30" y="87.40" font-size="32" textLength="46.39" lengthAdjust="spacing" fill="#000" stroke="#000" stroke-width="0.4">the</text>
<text x="1056.05" y="87.40" font-size="32" textLength="89.55" lengthAdjust="spacing" fill="#000" stroke="#000" stroke-width="0.4">hybrid</text>
<text x="1156.55" y="87.40" font-size="32" textLength="147.26" lengthAdjust="spacing" fill="#000" stroke="#000" stroke-width="0.4">modulator</text>
<text x="886.02" y="128.50" font-size="32" textLength="66.19" lengthAdjust="spacing" fill="#000" stroke="#000" stroke-width="0.4">Loss</text>
<text x="963.07" y="128.50" font-size="32" textLength="28.04" lengthAdjust="spacing" fill="#000" stroke="#000" stroke-width="0.4">of</text>
<text x="1002.30" y="128.50" font-size="32" textLength="46.39" lengthAdjust="spacing" fill="#000" stroke="#000" stroke-width="0.4">the</text>
<text x="1060.07" y="128.50" font-size="32" textLength="87.94" lengthAdjust="spacing" fill="#000" stroke="#000" stroke-width="0.4">silicon</text>
<text x="1161.27" y="128.50" font-size="32" textLength="177.96" lengthAdjust="spacing" fill="#000" stroke="#000" stroke-width="0.4">components</text>
<text x="866.41" y="28.20" font-size="37.4" font-weight="bold" textLength="207.00" lengthAdjust="spacingAndGlyphs" fill="#000" stroke="#000" stroke-width="0.7">Modulator</text>
<text x="1088.02" y="28.20" font-size="37.4" font-weight="bold" textLength="24.49" lengthAdjust="spacingAndGlyphs" fill="#000" stroke="#000" stroke-width="0.7">2</text>
<text x="835.77" y="72.50" font-size="38" fill="#262626">0</text>
<text x="801.98" y="200.18" font-size="38" fill="#262626">-</text>
<path transform="translate(814.63,200.18) scale(0.018555,-0.018555)" d="M763 0H583V1147Q518 1085 412 1023T223 930V1104Q373 1174 485 1274T645 1466H763Z" fill="#262626"/>
<text x="835.77" y="200.18" font-size="38" fill="#262626">0</text>
<text x="801.98" y="327.85" font-size="38" fill="#262626">-</text>
<text x="814.63" y="327.85" font-size="38" fill="#262626">2</text>
<text x="835.77" y="327.85" font-size="38" fill="#262626">0</text>
<text x="801.98" y="455.52" font-size="38" fill="#262626">-</text>
<text x="814.63" y="455.52" font-size="38" fill="#262626">3</text>
<text x="835.77" y="455.52" font-size="38" fill="#262626">0</text>
<text x="801.98" y="583.20" font-size="38" fill="#262626">-</text>
<text x="814.63" y="583.20" font-size="38" fill="#262626">4</text>
<text x="835.77" y="583.20" font-size="38" fill="#262626">0</text>
<path transform="translate(828.23,620.00) scale(0.018555,-0.018555)" d="M763 0H583V1147Q518 1085 412 1023T223 930V1104Q373 1174 485 1274T645 1466H763Z" fill="#262626"/>
<text x="849.37" y="620.00" font-size="38" fill="#262626">3</text>
<text x="870.50" y="620.00" font-size="38" fill="#262626">0</text>
<text x="891.63" y="620.00" font-size="38" fill="#262626">0</text>
<path transform="translate(939.43,620.00) scale(0.018555,-0.018555)" d="M763 0H583V1147Q518 1085 412 1023T223 930V1104Q373 1174 485 1274T645 1466H763Z" fill="#262626"/>
<text x="960.57" y="620.00" font-size="38" fill="#262626">3</text>
<text x="981.70" y="620.00" font-size="38" fill="#262626">0</text>
<text x="1002.83" y="620.00" font-size="38" fill="#262626">5</text>
<path transform="translate(1050.63,620.00) scale(0.018555,-0.018555)" d="M763 0H583V1147Q518 1085 412 1023T223 930V1104Q373 1174 485 1274T645 1466H763Z" fill="#262626"/>
<text x="1071.77" y="620.00" font-size="38" fill="#262626">3</text>
<path transform="translate(1092.90,620.00) scale(0.018555,-0.018555)" d="M763 0H583V1147Q518 1085 412 1023T223 930V1104Q373 1174 485 1274T645 1466H763Z" fill="#262626"/>
<text x="1114.03" y="620.00" font-size="38" fill="#262626">0</text>
<path transform="translate(1161.83,620.00) scale(0.018555,-0.018555)" d="M763 0H583V1147Q518 1085 412 1023T223 930V1104Q373 1174 485 1274T645 1466H763Z" fill="#262626"/>
<text x="1182.97" y="620.00" font-size="38" fill="#262626">3</text>
<path transform="translate(1204.10,620.00) scale(0.018555,-0.018555)" d="M763 0H583V1147Q518 1085 412 1023T223 930V1104Q373 1174 485 1274T645 1466H763Z" fill="#262626"/>
<text x="1225.23" y="620.00" font-size="38" fill="#262626">5</text>
<path transform="translate(1273.03,620.00) scale(0.018555,-0.018555)" d="M763 0H583V1147Q518 1085 412 1023T223 930V1104Q373 1174 485 1274T645 1466H763Z" fill="#262626"/>
<text x="1294.17" y="620.00" font-size="38" fill="#262626">3</text>
<text x="1315.30" y="620.00" font-size="38" fill="#262626">2</text>
<text x="1336.43" y="620.00" font-size="38" fill="#262626">0</text>
<path transform="translate(1384.23,620.00) scale(0.018555,-0.018555)" d="M763 0H583V1147Q518 1085 412 1023T223 930V1104Q373 1174 485 1274T645 1466H763Z" fill="#262626"/>
<text x="1405.37" y="620.00" font-size="38" fill="#262626">3</text>
<text x="1426.50" y="620.00" font-size="38" fill="#262626">2</text>
<text x="1447.63" y="620.00" font-size="38" fill="#262626">5</text>
<text x="1148.5" y="674.9" font-size="41.8" text-anchor="middle" fill="#262626">Wavelength (nm)</text>
<text transform="translate(785.0,312.1) rotate(-90)" x="0" y="0" font-size="41.8" text-anchor="middle" fill="#262626">T (dB)</text>
<rect x="115.5" y="788.2" width="553.1" height="510.3" fill="none" stroke="#222222" stroke-width="2.4"/>
<path d="M226.12,1298.5V1292.10M226.12,788.2V794.60M336.74,1298.5V1292.10M336.74,788.2V794.60M447.36,1298.5V1292.10M447.36,788.2V794.60M557.98,1298.5V1292.10M557.98,788.2V794.60M115.5,915.78H121.90M668.6,915.78H662.20M115.5,1043.35H121.90M668.6,1043.35H662.20M115.5,1170.92H121.90M668.6,1170.92H662.20" stroke="#222222" stroke-width="2.1" fill="none"/>
<path d="M115.5,874.8 116.0,873.7 116.5,874.7 117.0,873.8 117.5,874.3 118.0,874.6 118.5,873.1 119.0,873.6 119.5,874.2 120.0,874.0 120.5,873.7 121.0,874.5 121.5,874.6 122.0,876.0 122.5,876.6 123.0,877.2 123.5,878.4 124.0,879.4 124.5,880.4 125.0,880.2 125.5,880.2 126.0,880.7 126.5,880.9 127.0,882.4 127.4,882.7 127.9,883.0 128.4,883.1 128.9,884.8 129.4,885.9 129.9,888.2 130.4,888.9 130.9,891.0 131.4,892.2 131.9,891.5 132.4,894.1 132.9,893.9 133.4,894.8 133.8,896.3 134.3,897.3 134.8,898.5 135.3,899.4 135.8,901.7 136.3,904.0 136.8,906.2 137.3,908.5 137.7,910.0 138.2,912.3 138.7,913.1 139.2,916.7 139.7,919.2 140.2,921.6 140.7,924.9 141.2,924.8 141.7,929.2 142.2,931.3 142.8,933.9 143.3,935.0 143.8,939.7 144.3,941.5 144.9,945.4 145.4,948.7 145.9,952.5 146.5,955.4 147.0,960.1 147.5,963.9 148.1,967.6 148.6,970.5 149.2,977.6 149.7,980.9 150.3,985.5 150.7,991.7 151.2,997.3 151.7,1004.0 152.2,1009.1 152.7,1016.4 153.2,1024.4 153.6,1032.7 154.1,1041.6 154.6,1051.1 155.1,1062.1 155.6,1071.8 156.0,1086.6 156.5,1103.7 157.0,1119.4 157.5,1138.6 158.0,1162.2 158.5,1193.4 159.0,1236.6 159.5,1305.1 160.0,1399.8 160.5,1306.3 161.0,1238.0 161.5,1193.2 162.0,1162.1 162.5,1139.0 163.0,1117.2 163.5,1100.4 163.9,1086.9 164.3,1075.1 164.7,1063.1 165.2,1053.3 165.6,1044.3 166.0,1036.1 166.4,1027.8 166.9,1018.9 167.3,1012.3 167.8,1006.8 168.2,999.6 168.7,993.7 169.1,987.6 169.7,981.7 170.4,977.5 171.0,973.2 171.7,968.9 172.3,965.6 173.0,960.8 173.6,955.9 174.2,952.5 174.9,949.5 175.5,946.4 176.1,943.8 176.7,941.0 177.3,937.9 177.9,935.3 178.5,932.4 179.1,930.5 179.7,927.0 180.3,924.1 180.8,922.4 181.3,921.4 181.7,918.3 182.1,914.7 182.6,913.2 183.0,911.3 183.5,909.6 183.9,906.9 184.4,905.8 184.8,903.0 185.3,901.8 185.7,899.5 186.2,898.2 186.6,897.1 187.1,896.8 187.6,895.5 188.0,894.0 188.5,891.9 189.0,890.4 189.4,889.9 189.9,888.3 190.4,886.5 190.8,885.9 191.3,885.4 191.8,884.8 192.3,883.1 192.7,882.1 193.2,882.2 193.7,881.1 194.2,880.8 194.6,880.6 195.1,878.7 195.6,877.7 196.1,878.1 196.6,877.5 197.1,876.7 197.6,876.9 198.0,876.6 198.5,875.6 199.0,876.8 199.5,875.8 200.0,874.9 200.5,874.4 201.0,875.5 201.5,874.9 202.0,875.4 202.5,874.6 203.0,874.1 203.5,874.1 204.0,875.0 204.5,875.4 205.0,874.6 205.5,875.6 206.0,875.2 206.5,875.1 206.9,875.7 207.4,874.3 207.9,875.3 208.4,874.5 208.9,877.4 209.4,879.6 209.8,878.6 210.3,878.5 210.8,879.5 211.3,880.1 211.7,882.2 212.2,882.8 212.7,883.8 213.1,884.1 213.6,883.8 214.0,884.6 214.5,885.3 215.0,886.9 215.4,888.1 215.9,888.8 216.3,890.0 216.8,890.1 217.2,892.2 217.7,891.9 218.1,894.5 218.5,895.0 219.0,897.4 219.4,897.5 219.8,899.4 220.3,901.0 220.7,902.4 221.1,904.9 221.6,907.5 222.0,910.6 222.4,910.8 222.8,913.1 223.2,915.3 223.6,917.1 224.0,917.5 224.4,921.6 224.9,923.5 225.4,926.1 225.9,928.0 226.4,932.1 226.9,934.6 227.4,936.3 227.9,938.0 228.5,940.3 229.0,944.8 229.5,948.3 230.0,951.9 230.5,956.5 231.0,961.0 231.5,963.6 232.1,967.3 232.6,971.6 233.1,975.0 233.6,980.8 234.1,985.2 234.7,990.4 235.3,996.0 235.9,1001.4 236.5,1007.5 237.1,1013.9 237.7,1020.8 238.4,1027.0 239.0,1035.9 239.7,1044.0 240.3,1053.4 241.0,1064.4 241.7,1075.2 242.4,1088.7 243.0,1101.8 243.5,1118.5 244.0,1136.9 244.5,1157.3 245.0,1180.7 245.5,1206.5 246.0,1229.6 246.5,1237.4 247.0,1223.1 247.5,1197.1 248.0,1171.5 248.5,1149.7 249.0,1129.1 249.5,1112.0 250.0,1097.9 250.4,1084.1 250.7,1073.2 251.1,1062.6 251.5,1052.0 251.9,1044.0 252.3,1035.0 252.7,1028.0 253.1,1019.6 253.5,1013.2 253.9,1006.5 254.4,1001.5 254.8,995.6 255.2,989.2 255.7,983.8 256.2,980.6 256.6,974.9 257.1,969.8 257.6,966.2 258.1,961.3 258.6,958.7 259.0,955.1 259.5,950.7 260.0,946.7 260.5,943.1 261.0,941.6 261.5,940.1 262.0,936.5 262.5,934.7 262.9,931.6 263.4,929.7 263.9,925.8 264.4,922.8 264.9,920.3 265.5,918.4 266.1,916.5 266.7,914.8 267.2,912.5 267.8,910.5 268.4,908.5 268.9,907.3 269.5,904.1 270.0,902.9 270.6,900.7 271.2,898.8 271.7,898.9 272.3,899.0 272.8,896.3 273.4,895.4 273.9,894.1 274.4,893.1 275.0,891.8 275.5,891.6 276.1,890.3 276.6,889.4 277.1,888.1 277.7,888.8 278.2,886.5 278.7,885.1 279.3,885.5 279.8,884.6 280.3,883.1 280.8,881.4 281.4,880.5 281.9,878.6 282.4,878.3 283.0,878.7 283.5,878.7 284.0,877.5 284.5,877.8 285.0,876.8 285.5,876.1 286.0,876.1 286.5,875.7 287.0,876.4 287.5,876.7 288.0,877.3 288.5,877.7 289.0,878.6 289.5,878.5 290.0,878.7 290.5,879.2 291.0,878.2 291.5,877.4 292.0,877.6 292.5,876.4 293.0,876.0 293.5,875.8 294.0,877.0 294.5,878.6 295.0,878.2 295.5,878.4 296.0,878.6 296.5,879.3 297.0,879.5 297.5,881.3 298.0,882.0 298.5,883.9 299.0,886.6 299.5,887.1 300.0,886.3 300.5,888.6 301.0,888.4 301.5,890.0 302.1,891.2 302.6,892.1 303.1,893.0 303.6,895.0 304.1,895.9 304.6,896.8 305.1,897.6 305.6,899.9 306.1,900.2 306.6,900.8 307.1,901.5 307.6,905.5 308.1,907.5 308.6,911.0 309.1,912.3 309.6,913.7 310.2,916.8 310.7,919.9 311.2,921.3 311.7,922.9 312.2,925.9 312.6,928.4 313.1,932.8 313.6,935.1 314.1,937.1 314.6,939.6 315.0,941.2 315.5,945.7 316.0,950.7 316.5,953.1 316.9,956.9 317.4,960.1 317.9,963.5 318.3,967.3 318.8,970.9 319.3,975.1 319.7,982.1 320.2,987.2 320.7,991.1 321.2,997.7 321.8,1003.4 322.3,1010.3 322.8,1017.9 323.3,1024.1 323.8,1031.9 324.4,1041.4 324.9,1050.5 325.4,1062.3 325.9,1074.2 326.5,1086.1 327.0,1100.6 327.5,1118.0 328.0,1136.6 328.5,1159.2 329.0,1185.9 329.5,1218.7 330.0,1254.0 330.5,1266.9 331.0,1240.0 331.5,1203.5 332.0,1170.7 332.5,1144.0 333.0,1122.3 333.5,1104.7 334.0,1089.8 334.5,1075.6 335.0,1064.1 335.5,1053.0 336.0,1044.4 336.6,1035.2 337.1,1025.3 337.6,1018.5 338.1,1012.2 338.6,1005.0 339.1,996.9 339.6,990.1 340.1,985.4 340.8,980.7 341.6,975.8 342.3,971.7 343.0,966.8 343.7,962.5 344.4,959.4 345.0,955.3 345.7,951.2 346.4,947.9 347.0,944.8 347.7,940.2 348.3,935.5 348.9,933.2 349.6,930.8 350.2,927.6 350.8,925.3 351.4,923.3 351.8,919.5 352.2,918.2 352.6,916.3 352.9,914.3 353.3,912.5 353.7,910.1 354.0,907.3 354.4,904.3 354.8,902.4 355.2,901.0 355.6,900.6 356.0,898.8 356.4,897.8 356.8,896.1 357.2,893.6 357.6,892.3 358.0,891.3 358.5,890.6 358.9,889.2 359.3,887.8 359.8,887.4 360.2,886.5 360.6,884.5 361.1,884.9 361.5,883.8 362.0,883.5 362.4,880.9 362.9,879.8 363.3,879.0 363.8,878.3 364.2,877.8 364.7,877.3 365.2,878.2 365.6,877.2 366.1,876.2 366.6,877.0 367.1,875.7 367.6,874.9 368.0,876.0 368.5,875.9 369.0,875.6 369.5,875.5 370.0,874.8 370.5,875.7 371.0,875.4 371.5,874.9 372.0,874.3 372.5,874.4 373.0,874.8 373.5,874.4 374.0,876.3 374.5,875.3 375.0,875.8 375.5,876.9 376.0,877.1 376.6,878.4 377.1,879.6 377.6,879.1 378.1,879.3 378.6,878.5 379.1,879.5 379.6,880.6 380.1,881.2 380.7,879.8 381.2,880.5 381.7,881.7 382.2,883.0 382.7,884.2 383.3,884.5 383.8,884.5 384.3,884.3 384.8,884.6 385.4,885.8 385.9,887.6 386.4,889.2 386.9,891.8 387.5,892.7 388.0,892.6 388.5,893.6 389.1,894.2 389.6,896.3 390.1,896.4 390.7,897.4 391.2,898.8 391.8,899.9 392.3,903.2 392.8,904.5 393.4,906.2 393.9,905.8 394.5,907.7 395.0,909.8 395.6,910.8 396.1,913.6 396.7,914.1 397.2,916.8 397.8,918.8 398.4,921.5 398.9,922.7 399.3,926.5 399.8,927.6 400.2,930.4 400.6,932.4 401.1,935.5 401.5,937.4 401.9,939.7 402.3,942.0 402.8,944.7 403.2,947.3 403.6,949.9 404.0,953.9 404.4,958.2 404.8,962.3 405.2,964.8 405.6,968.7 406.0,971.6 406.4,975.8 406.8,980.9 407.2,984.4 407.7,987.6 408.2,993.3 408.7,999.5 409.2,1005.4 409.7,1010.1 410.3,1016.6 410.8,1023.1 411.3,1029.2 411.8,1036.5 412.3,1044.2 412.9,1053.0 413.4,1062.4 413.9,1071.9 414.5,1082.4 415.0,1093.8 415.5,1107.6 416.0,1122.1 416.5,1138.7 417.0,1158.0 417.5,1179.7 418.0,1203.5 418.5,1227.4 419.0,1241.4 419.5,1234.3 420.0,1208.6 420.5,1181.1 421.0,1156.5 421.5,1135.8 422.0,1116.7 422.5,1098.7 422.9,1085.1 423.3,1073.0 423.7,1061.8 424.2,1052.3 424.6,1042.9 425.0,1034.8 425.4,1027.1 425.9,1019.2 426.3,1012.0 426.8,1005.6 427.2,1000.0 427.7,993.8 428.1,989.1 428.5,982.9 428.9,978.3 429.3,973.5 429.7,968.4 430.1,963.9 430.5,961.2 431.0,957.3 431.4,953.1 431.8,950.3 432.2,948.4 432.7,944.2 433.1,940.5 433.5,936.8 434.0,933.7 434.4,930.8 434.8,927.9 435.3,924.3 435.7,921.9 436.3,919.5 436.9,917.9 437.5,914.9 438.1,913.3 438.7,910.8 439.2,910.8 439.8,908.2 440.4,906.2 441.0,904.5 441.6,901.6 442.2,899.8 442.7,898.6 443.3,897.5 443.9,894.5 444.4,892.9 445.0,891.6 445.6,891.3 446.1,889.1 446.7,887.8 447.2,887.3 447.8,886.4 448.3,886.6 448.9,884.5 449.4,884.3 450.0,882.3 450.5,881.7 451.0,881.1 451.6,879.7 452.1,878.7 452.7,878.8 453.2,877.8 453.7,876.5 454.3,876.0 454.8,876.4 455.3,875.6 455.8,875.4 456.4,874.9 456.9,873.9 457.4,873.1 457.9,872.6 458.4,873.2 459.0,871.9 459.5,871.4 460.0,871.2 460.5,870.7 461.0,869.1 461.5,870.6 462.0,871.7 462.5,870.6 463.0,871.1 463.5,869.9 464.0,870.8 464.5,871.0 465.0,870.1 465.5,869.6 466.0,869.7 466.5,869.8 467.0,870.6 467.5,871.6 468.0,872.2 468.5,871.7 469.0,872.1 469.5,873.0 470.0,873.6 470.5,873.8 471.1,874.0 471.6,875.4 472.1,876.5 472.6,877.2 473.1,876.3 473.6,877.9 474.1,878.5 474.6,881.5 475.1,881.9 475.6,884.3 476.2,886.0 476.7,887.2 477.2,888.1 477.7,889.0 478.2,890.0 478.7,891.3 479.2,893.2 479.8,892.7 480.3,894.8 480.8,896.6 481.3,897.4 481.8,899.5 482.4,901.9 482.9,904.3 483.4,905.5 483.9,909.4 484.4,912.6 485.0,914.7 485.5,918.7 486.0,921.2 486.5,922.4 487.0,925.5 487.5,928.1 488.0,930.5 488.5,934.7 488.9,937.6 489.4,941.4 489.9,945.6 490.4,949.1 490.8,952.7 491.3,956.9 491.8,961.5 492.2,965.0 492.7,968.9 493.2,974.0 493.6,979.8 494.1,986.4 494.6,992.9 495.1,999.7 495.6,1005.9 496.1,1012.2 496.6,1019.5 497.1,1028.4 497.6,1038.2 498.0,1048.3 498.5,1059.5 499.0,1071.7 499.5,1085.1 500.0,1102.6 500.5,1120.4 501.0,1146.2 501.5,1177.0 502.0,1217.9 502.5,1280.5 503.0,1390.8 503.5,1330.7 504.0,1256.2 504.5,1208.8 505.0,1176.4 505.5,1150.9 506.0,1131.0 506.5,1111.6 507.0,1097.1 507.4,1084.7 507.7,1071.1 508.1,1061.1 508.4,1051.5 508.8,1043.2 509.2,1035.8 509.6,1029.2 510.0,1021.7 510.4,1013.5 510.9,1007.3 511.3,1001.8 511.7,995.6 512.1,991.5 512.6,985.4 513.1,981.1 513.6,977.4 514.1,972.5 514.7,968.2 515.2,964.7 515.7,960.8 516.2,956.6 516.7,952.4 517.2,950.3 517.8,949.2 518.3,943.9 518.8,941.3 519.3,938.8 519.8,935.6 520.3,933.3 520.9,929.9 521.4,928.6 521.9,926.2 522.4,924.6 522.9,920.7 523.5,918.9 524.0,916.0 524.6,913.3 525.1,912.9 525.6,911.2 526.2,908.8 526.7,907.1 527.3,905.7 527.8,903.4 528.3,901.4 528.9,900.8 529.4,899.5 529.9,897.6 530.5,896.2 531.0,895.0 531.5,894.7 532.1,891.9 532.6,891.2 533.1,890.0 533.6,889.1 534.2,888.1 534.7,887.0 535.2,886.8 535.7,885.3 536.2,883.5 536.8,882.7 537.3,881.7 537.8,880.9 538.3,880.5 538.8,878.7 539.4,879.2 539.9,878.5 540.4,877.4 540.9,877.0 541.4,877.6 541.9,877.9 542.4,875.8 542.9,876.3 543.4,875.8 544.0,874.9 544.5,874.6 545.0,875.7 545.5,876.4 546.0,875.4 546.5,875.2 547.0,874.7 547.5,874.0 548.0,873.6 548.5,874.4 549.0,875.2 549.5,873.7 550.0,873.9 550.5,874.6 551.0,875.6 551.5,874.4 552.0,875.1 552.5,875.5 553.0,874.6 553.5,874.4 554.0,874.3 554.6,875.8 555.1,878.1 555.6,878.2 556.1,878.0 556.6,878.4 557.1,877.7 557.6,877.9 558.2,879.4 558.7,879.4 559.2,880.2 559.7,881.4 560.2,881.2 560.8,883.5 561.3,883.3 561.8,883.5 562.3,886.5 562.9,887.3 563.4,888.2 563.9,890.0 564.5,891.2 565.0,892.6 565.5,893.4 566.1,894.9 566.6,897.6 567.2,897.3 567.7,898.0 568.3,900.4 568.8,901.3 569.4,901.7 569.9,905.4 570.5,907.5 571.0,909.7 571.6,911.0 572.1,913.4 572.7,916.5 573.3,917.4 573.8,920.1 574.4,921.9 574.8,922.9 575.3,926.9 575.7,930.2 576.2,932.4 576.6,935.7 577.1,938.5 577.5,941.9 577.9,943.3 578.4,947.2 578.8,951.3 579.2,955.6 579.6,959.6 580.1,965.4 580.5,969.6 580.9,973.3 581.3,979.1 581.7,983.8 582.1,989.1 582.6,995.0 583.1,998.8 583.6,1005.2 584.1,1012.4 584.6,1020.7 585.1,1028.5 585.6,1037.2 586.1,1046.3 586.6,1056.1 587.0,1065.2 587.5,1077.2 588.0,1090.6 588.5,1106.2 589.0,1123.1 589.5,1146.4 590.0,1173.5 590.5,1204.2 591.0,1239.1 591.5,1264.2 592.0,1253.4 592.5,1219.9 593.0,1186.4 593.5,1159.7 594.0,1137.6 594.5,1117.8 595.0,1102.0 595.6,1088.1 596.2,1075.0 596.8,1065.4 597.4,1052.9 598.0,1043.7 598.6,1034.7 599.2,1026.6 599.8,1019.0 600.4,1013.3 600.9,1005.1 601.5,998.9 602.1,993.3 602.6,985.7 603.1,982.7 603.5,977.5 603.9,973.3 604.3,970.2 604.7,964.1 605.1,961.6 605.5,957.3 605.9,953.6 606.4,949.8 606.8,947.1 607.2,942.4 607.7,939.3 608.1,937.4 608.5,935.2 609.0,931.6 609.4,929.5 609.8,926.1 610.3,923.1 610.8,921.1 611.3,920.1 611.8,918.1 612.3,914.8 612.8,912.7 613.3,908.8 613.8,907.5 614.3,905.4 614.8,903.2 615.4,901.6 615.9,899.9 616.4,897.6 616.9,896.6 617.4,895.0 617.9,894.0 618.4,891.0 618.9,890.2 619.4,888.6 619.9,890.1 620.4,888.6 620.9,887.8 621.4,885.9 621.9,884.8 622.4,884.2 622.9,882.8 623.4,880.8 624.0,879.1 624.5,878.9 625.0,877.2 625.5,877.2 626.0,875.9 626.5,875.9 627.0,874.1 627.5,871.7 628.0,871.9 628.5,870.6 629.0,871.5 629.5,871.2 630.0,868.4 630.5,868.6 631.0,868.3 631.5,869.6 632.0,869.2 632.5,869.5 633.0,868.2 633.5,868.8 634.0,866.7 634.5,868.3 635.0,868.2 635.5,869.9 636.0,869.7 636.5,868.3 637.0,868.5 637.5,869.5 638.0,868.8 638.5,868.0 639.0,867.9 639.5,867.4 640.0,869.0 640.5,867.5 641.0,867.5 641.5,869.8 642.0,868.3 642.5,869.4 643.0,869.6 643.5,871.9 644.0,872.7 644.5,874.5 645.0,874.0 645.5,874.8 645.9,876.3 646.4,877.1 646.9,876.7 647.4,878.4 647.9,878.7 648.4,880.7 648.9,882.7 649.4,883.5 649.9,884.2 650.4,884.8 650.9,885.2 651.4,886.9 651.8,888.5 652.3,889.2 652.8,890.5 653.3,892.3 653.8,893.8 654.3,897.3 654.8,898.8 655.3,901.3 655.8,902.6 656.2,903.3 656.7,906.5 657.2,907.3 657.7,909.8 658.2,912.0 658.7,914.5 659.1,916.1 659.6,919.2 660.1,923.3 660.6,925.0 661.1,927.6 661.6,929.8 662.1,932.4 662.6,936.7 663.1,939.7 663.6,943.0 664.1,946.6 664.7,950.3 665.2,954.0 665.7,958.7 666.2,963.0 666.7,966.7 667.2,972.6 667.7,977.5 668.2,983.5 668.3,985.0" fill="none" stroke="#086CB5" stroke-width="2.6" stroke-linejoin="round" clip-path="url(#c2)"/>
<rect x="115.5" y="788.2" width="553.1" height="34.8" fill="rgb(183,227,155)" fill-opacity="0.25"/>
<rect x="115.5" y="823.0" width="557.2" height="50.6" fill="rgb(128,0,128)" fill-opacity="0.165"/>
<text x="126.72" y="820.60" font-size="32" textLength="63.99" lengthAdjust="spacing" fill="#000" stroke="#000" stroke-width="0.4">Loss</text>
<text x="201.47" y="820.60" font-size="32" textLength="28.04" lengthAdjust="spacing" fill="#000" stroke="#000" stroke-width="0.4">of</text>
<text x="240.00" y="820.60" font-size="32" textLength="46.39" lengthAdjust="spacing" fill="#000" stroke="#000" stroke-width="0.4">the</text>
<text x="296.75" y="820.60" font-size="32" textLength="89.55" lengthAdjust="spacing" fill="#000" stroke="#000" stroke-width="0.4">hybrid</text>
<text x="397.25" y="820.60" font-size="32" textLength="147.26" lengthAdjust="spacing" fill="#000" stroke="#000" stroke-width="0.4">modulator</text>
<text x="126.72" y="861.10" font-size="32" textLength="66.19" lengthAdjust="spacing" fill="#000" stroke="#000" stroke-width="0.4">Loss</text>
<text x="203.77" y="861.10" font-size="32" textLength="28.04" lengthAdjust="spacing" fill="#000" stroke="#000" stroke-width="0.4">of</text>
<text x="243.00" y="861.10" font-size="32" textLength="46.39" lengthAdjust="spacing" fill="#000" stroke="#000" stroke-width="0.4">the</text>
<text x="300.77" y="861.10" font-size="32" textLength="87.94" lengthAdjust="spacing" fill="#000" stroke="#000" stroke-width="0.4">silicon</text>
<text x="401.97" y="861.10" font-size="32" textLength="177.96" lengthAdjust="spacing" fill="#000" stroke="#000" stroke-width="0.4">components</text>
<text x="111.41" y="759.50" font-size="37.4" font-weight="bold" textLength="207.00" lengthAdjust="spacingAndGlyphs" fill="#000" stroke="#000" stroke-width="0.7">Modulator</text>
<text x="333.18" y="759.50" font-size="37.4" font-weight="bold" textLength="23.20" lengthAdjust="spacingAndGlyphs" fill="#000" stroke="#000" stroke-width="0.7">3</text>
<text x="80.77" y="804.00" font-size="38" fill="#262626">0</text>
<text x="46.98" y="931.58" font-size="38" fill="#262626">-</text>
<path transform="translate(59.63,931.58) scale(0.018555,-0.018555)" d="M763 0H583V1147Q518 1085 412 1023T223 930V1104Q373 1174 485 1274T645 1466H763Z" fill="#262626"/>
<text x="80.77" y="931.58" font-size="38" fill="#262626">0</text>
<text x="46.98" y="1059.15" font-size="38" fill="#262626">-</text>
<text x="59.63" y="1059.15" font-size="38" fill="#262626">2</text>
<text x="80.77" y="1059.15" font-size="38" fill="#262626">0</text>
<text x="46.98" y="1186.72" font-size="38" fill="#262626">-</text>
<text x="59.63" y="1186.72" font-size="38" fill="#262626">3</text>
<text x="80.77" y="1186.72" font-size="38" fill="#262626">0</text>
<text x="46.98" y="1314.30" font-size="38" fill="#262626">-</text>
<text x="59.63" y="1314.30" font-size="38" fill="#262626">4</text>
<text x="80.77" y="1314.30" font-size="38" fill="#262626">0</text>
<path transform="translate(73.23,1351.10) scale(0.018555,-0.018555)" d="M763 0H583V1147Q518 1085 412 1023T223 930V1104Q373 1174 485 1274T645 1466H763Z" fill="#262626"/>
<text x="94.37" y="1351.10" font-size="38" fill="#262626">3</text>
<text x="115.50" y="1351.10" font-size="38" fill="#262626">0</text>
<text x="136.63" y="1351.10" font-size="38" fill="#262626">0</text>
<path transform="translate(183.85,1351.10) scale(0.018555,-0.018555)" d="M763 0H583V1147Q518 1085 412 1023T223 930V1104Q373 1174 485 1274T645 1466H763Z" fill="#262626"/>
<text x="204.99" y="1351.10" font-size="38" fill="#262626">3</text>
<text x="226.12" y="1351.10" font-size="38" fill="#262626">0</text>
<text x="247.25" y="1351.10" font-size="38" fill="#262626">5</text>
<path transform="translate(294.47,1351.10) scale(0.018555,-0.018555)" d="M763 0H583V1147Q518 1085 412 1023T223 930V1104Q373 1174 485 1274T645 1466H763Z" fill="#262626"/>
<text x="315.61" y="1351.10" font-size="38" fill="#262626">3</text>
<path transform="translate(336.74,1351.10) scale(0.018555,-0.018555)" d="M763 0H583V1147Q518 1085 412 1023T223 930V1104Q373 1174 485 1274T645 1466H763Z" fill="#262626"/>
<text x="357.87" y="1351.10" font-size="38" fill="#262626">0</text>
<path transform="translate(405.09,1351.10) scale(0.018555,-0.018555)" d="M763 0H583V1147Q518 1085 412 1023T223 930V1104Q373 1174 485 1274T645 1466H763Z" fill="#262626"/>
<text x="426.23" y="1351.10" font-size="38" fill="#262626">3</text>
<path transform="translate(447.36,1351.10) scale(0.018555,-0.018555)" d="M763 0H583V1147Q518 1085 412 1023T223 930V1104Q373 1174 485 1274T645 1466H763Z" fill="#262626"/>
<text x="468.49" y="1351.10" font-size="38" fill="#262626">5</text>
<path transform="translate(515.71,1351.10) scale(0.018555,-0.018555)" d="M763 0H583V1147Q518 1085 412 1023T223 930V1104Q373 1174 485 1274T645 1466H763Z" fill="#262626"/>
<text x="536.85" y="1351.10" font-size="38" fill="#262626">3</text>
<text x="557.98" y="1351.10" font-size="38" fill="#262626">2</text>
<text x="579.11" y="1351.10" font-size="38" fill="#262626">0</text>
<path transform="translate(626.33,1351.10) scale(0.018555,-0.018555)" d="M763 0H583V1147Q518 1085 412 1023T223 930V1104Q373 1174 485 1274T645 1466H763Z" fill="#262626"/>
<text x="647.47" y="1351.10" font-size="38" fill="#262626">3</text>
<text x="668.60" y="1351.10" font-size="38" fill="#262626">2</text>
<text x="689.73" y="1351.10" font-size="38" fill="#262626">5</text>
<text x="392.1" y="1406.0" font-size="41.8" text-anchor="middle" fill="#262626">Wavelength (nm)</text>
<text transform="translate(30.0,1043.3) rotate(-90)" x="0" y="0" font-size="41.8" text-anchor="middle" fill="#262626">T (dB)</text>
<rect x="862.5" y="788.2" width="556.4" height="510.3" fill="none" stroke="#222222" stroke-width="2.4"/>
<path d="M973.78,1298.5V1292.10M973.78,788.2V794.60M1085.06,1298.5V1292.10M1085.06,788.2V794.60M1196.34,1298.5V1292.10M1196.34,788.2V794.60M1307.62,1298.5V1292.10M1307.62,788.2V794.60M862.5,915.78H868.90M1418.9,915.78H1412.50M862.5,1043.35H868.90M1418.9,1043.35H1412.50M862.5,1170.92H868.90M1418.9,1170.92H1412.50" stroke="#222222" stroke-width="2.1" fill="none"/>
<path d="M862.5,921.1 863.0,918.3 863.5,916.3 864.0,913.7 864.5,910.8 865.0,908.7 865.5,905.8 866.0,905.2 866.5,903.4 867.0,902.3 867.5,901.0 868.0,899.2 868.5,897.3 869.0,895.4 869.5,893.7 870.0,890.9 870.5,889.7 871.0,890.5 871.5,889.2 872.0,888.7 872.5,887.9 873.0,885.7 873.5,885.3 874.0,886.0 874.5,884.5 875.0,883.8 875.5,883.8 876.0,883.5 876.5,882.9 877.0,881.9 877.5,881.5 878.0,880.8 878.5,879.0 879.0,879.9 879.5,880.5 880.0,880.4 880.5,879.4 881.0,880.3 881.5,879.4 882.0,881.1 882.5,882.1 883.0,882.1 883.5,883.0 884.0,883.7 884.5,883.5 885.0,883.6 885.5,884.4 886.0,885.6 886.5,885.4 887.0,886.3 887.5,887.7 888.0,887.8 888.5,889.8 889.0,890.5 889.5,890.8 889.9,891.8 890.4,893.0 890.9,893.2 891.4,894.2 891.9,895.0 892.4,895.9 892.9,894.9 893.4,895.8 893.9,895.1 894.4,895.5 894.9,896.3 895.4,896.3 895.8,896.8 896.3,897.4 896.8,899.1 897.3,899.3 897.8,899.1 898.3,899.7 898.8,900.0 899.3,900.2 899.7,901.7 900.2,901.8 900.7,905.2 901.2,906.8 901.7,910.2 902.2,910.4 902.6,911.8 903.1,912.2 903.6,914.8 904.1,918.5 904.6,919.1 905.0,922.4 905.6,925.2 906.1,927.0 906.6,928.5 907.1,931.2 907.6,933.4 908.1,937.3 908.7,938.0 909.2,940.9 909.7,943.7 910.2,946.2 910.7,949.3 911.3,952.4 911.8,956.5 912.3,959.7 912.8,962.7 913.4,965.5 913.9,969.7 914.4,973.7 914.9,977.7 915.5,981.7 916.0,986.3 916.5,991.4 917.0,996.7 917.5,1001.0 918.0,1006.5 918.5,1012.5 919.0,1016.1 919.5,1023.2 920.0,1030.5 920.5,1038.7 921.0,1048.0 921.5,1055.9 922.0,1065.8 922.5,1076.4 923.0,1087.3 923.5,1099.8 924.0,1114.8 924.5,1132.1 925.0,1150.7 925.5,1175.4 926.0,1207.9 926.5,1250.2 927.0,1317.0 927.5,1400.2 928.0,1310.9 928.5,1243.2 929.0,1198.9 929.5,1168.3 930.0,1144.3 930.5,1123.8 931.0,1107.9 931.5,1092.7 931.7,1080.3 932.0,1068.1 932.3,1058.8 932.7,1049.1 933.0,1041.7 933.3,1033.6 933.7,1025.8 934.1,1018.2 934.4,1010.2 934.8,1003.3 935.2,999.5 935.6,994.8 936.0,988.6 936.5,983.7 936.9,980.4 937.4,975.3 937.9,972.0 938.4,968.3 938.9,964.9 939.3,960.8 939.8,955.1 940.3,951.8 940.8,949.0 941.3,944.1 941.8,942.3 942.3,940.0 942.7,937.6 943.2,934.6 943.7,932.4 944.2,928.8 944.7,927.1 945.2,924.5 945.7,922.4 946.2,921.2 946.8,919.7 947.5,917.4 948.1,917.0 948.7,914.3 949.3,911.9 949.9,909.8 950.5,908.1 951.0,906.2 951.6,904.9 952.2,902.9 952.8,902.9 953.4,900.4 953.9,899.8 954.5,897.9 955.1,897.0 955.6,896.1 956.2,895.3 956.8,892.9 957.3,892.9 957.9,892.6 958.4,890.9 959.0,889.6 959.5,888.5 960.1,888.2 960.6,887.5 961.2,885.4 961.8,885.3 962.3,883.6 962.9,882.2 963.4,881.6 963.9,882.2 964.5,880.0 965.0,880.0 965.5,879.9 966.0,880.3 966.5,881.0 967.0,880.9 967.5,880.4 968.0,881.0 968.5,880.6 969.0,879.5 969.5,879.5 970.0,879.8 970.5,879.2 971.0,878.6 971.5,878.5 972.0,879.7 972.5,881.3 973.0,880.2 973.5,880.2 974.0,880.5 974.5,880.0 975.0,880.4 975.5,880.8 976.0,879.2 976.5,880.9 977.0,880.2 977.5,879.8 978.1,879.3 978.6,880.6 979.2,881.6 979.7,883.8 980.3,885.0 980.9,887.8 981.5,888.8 982.0,889.4 982.6,890.2 983.2,891.5 983.7,891.4 984.3,894.0 984.9,894.7 985.5,896.1 986.0,897.2 986.6,898.4 987.2,898.3 987.8,901.2 988.4,901.7 989.0,902.7 989.6,905.1 990.2,907.7 990.9,910.5 991.5,912.7 992.1,912.6 992.7,916.7 993.4,918.0 994.0,920.6 994.6,921.1 995.1,923.7 995.6,927.5 996.1,930.2 996.6,932.4 997.1,935.0 997.6,938.5 998.1,941.4 998.6,944.5 999.1,947.0 999.6,950.1 1000.1,953.4 1000.6,957.5 1001.1,960.5 1001.6,965.0 1002.1,969.5 1002.6,973.7 1003.1,978.0 1003.6,982.5 1004.1,988.3 1004.5,991.4 1004.9,995.9 1005.3,1000.3 1005.6,1006.5 1006.0,1011.7 1006.4,1017.6 1006.7,1023.7 1007.1,1028.5 1007.4,1035.6 1008.4,1055.0 1009.4,1070.5 1010.3,1058.0 1011.3,1047.0 1011.9,1044.8 1012.6,1050.0 1013.4,1053.0 1014.3,1050.5 1015.2,1044.0 1015.7,1036.0 1016.4,1016.1 1016.8,1011.4 1017.3,1005.9 1017.7,1001.9 1018.2,996.3 1018.7,990.6 1019.1,987.2 1019.6,984.2 1020.1,979.8 1020.6,975.8 1021.0,972.9 1021.5,969.3 1022.0,965.6 1022.5,961.8 1023.0,957.8 1023.4,955.5 1023.9,953.5 1024.4,951.4 1024.9,946.5 1025.4,944.2 1025.8,941.7 1026.3,937.1 1026.8,934.4 1027.3,931.0 1027.8,929.9 1028.3,928.7 1028.8,927.1 1029.3,924.4 1029.7,922.1 1030.3,920.0 1030.8,916.6 1031.4,914.5 1031.9,914.4 1032.5,912.5 1033.0,910.6 1033.6,909.8 1034.1,906.4 1034.7,904.8 1035.2,902.9 1035.8,902.7 1036.3,902.5 1036.9,900.4 1037.4,899.4 1037.9,898.6 1038.5,897.3 1039.0,895.8 1039.5,894.5 1040.1,893.6 1040.6,892.1 1041.1,889.0 1041.7,888.1 1042.2,888.5 1042.7,886.4 1043.2,886.7 1043.8,887.5 1044.3,887.5 1044.8,887.7 1045.3,885.1 1045.8,885.0 1046.4,884.8 1046.9,883.7 1047.4,882.5 1047.9,882.2 1048.5,881.3 1049.0,880.1 1049.5,878.9 1050.0,879.4 1050.5,878.6 1051.0,878.3 1051.5,878.0 1052.0,878.6 1052.5,879.4 1053.0,878.2 1053.5,877.8 1054.0,878.4 1054.5,878.8 1055.0,877.9 1055.5,876.3 1056.0,876.7 1056.5,875.2 1057.0,876.7 1057.5,877.1 1058.0,877.3 1058.5,877.0 1059.0,878.7 1059.5,878.6 1060.0,877.7 1060.5,879.4 1061.0,879.2 1061.5,879.0 1062.0,878.4 1062.6,878.5 1063.1,880.2 1063.6,879.9 1064.1,882.5 1064.6,884.6 1065.1,884.1 1065.7,884.6 1066.2,886.6 1066.7,886.5 1067.2,887.1 1067.8,887.9 1068.3,889.8 1068.8,892.0 1069.3,894.1 1069.9,894.8 1070.4,895.7 1070.9,897.0 1071.5,898.5 1072.0,898.8 1072.5,901.3 1073.1,903.1 1073.6,902.8 1074.1,905.3 1074.7,907.6 1075.2,908.4 1075.8,912.0 1076.3,912.3 1076.9,915.6 1077.4,918.2 1078.0,921.0 1078.5,923.4 1079.1,925.8 1079.6,927.0 1080.1,929.6 1080.6,931.2 1081.2,933.8 1081.7,938.2 1082.2,941.2 1082.8,944.9 1083.3,948.3 1083.8,951.5 1084.3,954.8 1084.9,958.4 1085.4,964.2 1086.0,968.0 1086.5,972.5 1087.0,975.4 1087.6,980.8 1088.1,986.2 1088.5,991.8 1089.0,997.1 1089.4,1004.4 1089.8,1010.9 1090.2,1018.0 1090.5,1025.4 1090.9,1033.7 1091.3,1042.8 1091.6,1052.2 1092.0,1063.6 1092.3,1073.5 1092.6,1086.7 1093.0,1102.8 1093.5,1119.0 1094.0,1136.8 1094.5,1158.7 1095.0,1183.3 1095.5,1210.1 1096.0,1225.9 1096.5,1224.1 1097.0,1207.9 1097.5,1184.3 1098.0,1159.9 1098.5,1139.4 1099.0,1122.8 1099.5,1107.1 1100.0,1092.5 1100.5,1078.3 1101.0,1067.3 1101.5,1056.8 1102.0,1048.1 1102.5,1039.5 1103.1,1032.4 1103.6,1025.7 1104.1,1019.2 1104.6,1012.3 1105.1,1004.6 1105.6,998.8 1106.1,992.4 1106.6,986.9 1107.1,982.3 1107.6,978.3 1108.2,972.2 1108.7,967.7 1109.2,963.4 1109.8,958.5 1110.3,954.8 1110.8,952.3 1111.3,949.3 1111.9,946.2 1112.4,941.8 1112.9,940.6 1113.4,939.3 1113.9,936.5 1114.5,933.3 1115.0,930.9 1115.5,927.3 1116.0,924.5 1116.5,922.4 1117.0,920.2 1117.5,916.6 1118.0,913.6 1118.4,911.2 1118.9,910.7 1119.4,908.4 1119.9,908.1 1120.4,907.9 1120.8,904.3 1121.3,902.2 1121.8,900.4 1122.3,898.2 1122.8,896.2 1123.3,895.4 1123.7,894.5 1124.2,893.1 1124.7,891.7 1125.2,890.8 1125.7,891.1 1126.2,887.8 1126.7,887.9 1127.2,887.5 1127.6,885.9 1128.1,885.1 1128.6,883.9 1129.1,881.3 1129.6,880.2 1130.1,880.7 1130.6,880.0 1131.1,879.6 1131.6,877.9 1132.1,878.2 1132.5,878.1 1133.0,878.3 1133.5,876.5 1134.0,875.2 1134.5,874.1 1135.0,873.3 1135.5,874.3 1136.0,874.2 1136.5,874.7 1137.0,873.3 1137.5,872.7 1138.0,874.1 1138.5,873.4 1139.0,873.3 1139.5,873.3 1140.0,872.8 1140.5,873.5 1141.0,873.8 1141.5,874.1 1142.0,874.4 1142.5,874.8 1143.0,873.4 1143.5,873.0 1144.0,873.3 1144.5,874.7 1145.0,872.5 1145.5,872.9 1146.0,873.1 1146.5,873.0 1147.0,872.2 1147.5,873.6 1148.0,876.3 1148.5,876.7 1149.0,877.1 1149.5,878.2 1150.0,877.7 1150.5,879.3 1151.0,880.0 1151.5,881.6 1152.0,881.7 1152.5,883.3 1153.0,883.5 1153.5,884.5 1154.0,885.5 1154.4,886.5 1154.9,889.0 1155.4,890.1 1155.9,890.8 1156.4,892.2 1156.9,892.3 1157.4,893.3 1157.9,895.6 1158.4,896.2 1158.9,898.3 1159.4,899.6 1159.9,900.6 1160.4,903.6 1160.9,906.0 1161.4,907.6 1161.9,909.5 1162.4,912.6 1162.8,913.5 1163.3,915.3 1163.8,917.3 1164.3,919.3 1164.8,921.3 1165.3,924.6 1165.8,926.8 1166.4,929.8 1166.9,932.8 1167.4,936.1 1167.9,937.7 1168.4,942.8 1169.0,945.8 1169.5,948.0 1170.0,951.5 1170.5,955.4 1171.1,958.0 1171.6,962.7 1172.1,966.8 1172.6,970.5 1173.2,975.3 1173.7,980.2 1174.2,984.7 1174.7,988.9 1175.2,995.2 1175.7,1000.3 1176.2,1006.4 1176.7,1013.0 1177.2,1020.6 1177.7,1025.8 1178.1,1033.1 1178.6,1041.1 1179.1,1050.1 1179.6,1057.8 1180.1,1068.3 1180.5,1079.1 1181.0,1089.7 1181.5,1099.8 1182.0,1109.6 1182.5,1120.4 1183.0,1127.2 1183.5,1131.6 1184.0,1131.8 1184.5,1129.3 1185.0,1121.4 1185.5,1110.9 1186.0,1101.6 1186.5,1091.0 1186.9,1079.3 1187.4,1068.2 1187.8,1058.7 1188.3,1048.6 1188.7,1041.5 1189.2,1032.2 1189.7,1024.2 1190.1,1016.4 1190.6,1009.4 1191.1,1002.8 1191.5,997.3 1192.0,990.5 1192.5,987.1 1193.0,981.3 1193.6,976.6 1194.2,970.1 1194.8,966.8 1195.3,962.3 1195.9,958.1 1196.4,953.5 1197.0,950.0 1197.6,947.3 1198.1,943.7 1198.7,939.3 1199.2,935.7 1199.7,933.5 1200.3,931.5 1200.8,929.3 1201.4,926.0 1201.9,923.1 1202.4,920.6 1202.9,918.2 1203.4,915.4 1203.8,912.0 1204.3,909.4 1204.8,908.1 1205.3,905.6 1205.8,904.2 1206.3,901.5 1206.7,899.4 1207.2,897.5 1207.7,894.8 1208.2,893.5 1208.7,892.2 1209.2,890.5 1209.7,890.8 1210.1,890.0 1210.6,889.0 1211.1,887.0 1211.6,886.0 1212.1,885.9 1212.6,885.1 1213.1,883.8 1213.6,882.9 1214.1,882.0 1214.6,881.9 1215.1,880.3 1215.6,880.0 1216.0,878.8 1216.5,877.9 1217.0,876.7 1217.5,874.4 1218.0,874.1 1218.5,873.8 1219.0,875.1 1219.5,874.6 1220.0,873.5 1220.5,873.2 1221.0,872.2 1221.5,872.5 1222.0,871.8 1222.5,871.8 1223.0,871.2 1223.5,871.9 1224.0,871.4 1224.5,872.1 1225.0,872.8 1225.5,871.8 1226.0,873.0 1226.5,873.5 1227.0,871.8 1227.5,871.9 1228.0,871.8 1228.5,871.9 1229.0,872.2 1229.5,871.0 1230.0,871.8 1230.5,871.5 1231.0,872.6 1231.5,874.0 1232.0,874.9 1232.5,875.5 1233.1,874.2 1233.6,876.2 1234.1,876.9 1234.6,879.2 1235.1,879.2 1235.6,880.0 1236.1,880.4 1236.6,881.2 1237.2,882.4 1237.7,883.1 1238.2,883.9 1238.7,884.0 1239.2,885.3 1239.7,886.6 1240.2,888.6 1240.8,888.7 1241.3,889.9 1241.8,891.8 1242.3,891.7 1242.8,892.4 1243.4,894.1 1243.9,895.7 1244.4,898.2 1244.9,901.1 1245.4,901.6 1246.0,903.7 1246.5,904.0 1247.0,905.7 1247.5,906.9 1248.1,909.0 1248.6,910.2 1249.1,911.5 1249.7,913.5 1250.2,915.1 1250.7,916.9 1251.2,919.6 1251.8,923.3 1252.3,924.7 1252.8,927.4 1253.2,930.4 1253.7,933.9 1254.2,937.1 1254.7,937.7 1255.2,938.9 1255.7,941.2 1256.2,943.3 1256.6,948.9 1257.1,951.6 1257.6,956.3 1258.1,960.6 1258.6,963.2 1259.0,966.1 1259.5,970.9 1260.0,976.2 1260.5,981.1 1261.0,985.0 1261.4,988.5 1261.9,992.0 1262.4,997.5 1262.9,1004.4 1263.3,1011.1 1263.8,1017.0 1264.3,1023.1 1264.8,1031.9 1265.2,1038.8 1265.7,1047.3 1266.2,1055.4 1266.6,1066.6 1267.1,1076.2 1267.5,1087.2 1268.0,1100.1 1268.5,1115.1 1269.0,1133.9 1269.5,1155.9 1270.0,1183.8 1270.5,1218.8 1271.0,1269.8 1271.5,1352.7 1272.0,1369.8 1272.5,1273.4 1273.0,1216.4 1273.5,1180.4 1274.0,1152.7 1274.5,1128.7 1275.0,1110.7 1275.5,1094.4 1276.0,1082.7 1276.6,1068.7 1277.1,1058.3 1277.6,1048.6 1278.1,1038.4 1278.7,1030.0 1279.2,1023.7 1279.7,1014.9 1280.2,1009.0 1280.7,1002.8 1281.2,997.1 1281.8,991.5 1282.3,986.1 1282.8,981.0 1283.3,976.3 1283.9,969.5 1284.4,965.5 1284.9,961.4 1285.4,958.4 1286.0,953.3 1286.5,949.9 1287.0,946.9 1287.5,944.3 1288.1,940.6 1288.6,939.1 1289.1,936.3 1289.6,933.3 1290.1,930.0 1290.6,927.1 1291.2,925.7 1291.7,922.4 1292.1,920.3 1292.6,918.3 1293.1,915.7 1293.5,913.8 1294.0,911.9 1294.5,910.0 1295.0,907.4 1295.4,905.6 1295.9,903.8 1296.4,902.7 1296.9,900.0 1297.3,898.7 1297.8,897.9 1298.3,895.5 1298.8,895.4 1299.3,894.2 1299.7,891.8 1300.2,890.7 1300.7,889.4 1301.2,888.0 1301.7,886.3 1302.1,884.4 1302.6,882.6 1303.1,882.0 1303.6,881.1 1304.1,881.4 1304.5,880.1 1305.0,878.3 1305.5,877.5 1306.0,875.9 1306.5,876.0 1307.0,875.6 1307.5,874.9 1308.0,875.9 1308.5,874.7 1309.0,876.0 1309.5,875.9 1310.0,877.1 1310.5,876.6 1311.0,876.8 1311.5,875.5 1312.0,877.0 1312.5,876.0 1313.0,875.4 1313.5,875.0 1314.0,874.4 1314.5,874.1 1315.0,875.3 1315.5,874.9 1316.0,875.6 1316.5,876.0 1317.0,876.0 1317.5,876.1 1318.0,876.3 1318.5,875.1 1319.0,875.2 1319.5,876.8 1320.0,876.9 1320.5,876.8 1321.0,874.8 1321.5,875.2 1322.0,876.2 1322.5,876.2 1323.0,878.6 1323.5,877.4 1324.1,878.5 1324.6,880.0 1325.1,880.0 1325.6,881.7 1326.1,883.5 1326.7,883.7 1327.2,883.5 1327.7,885.7 1328.2,887.4 1328.8,889.0 1329.3,890.1 1329.8,891.9 1330.3,893.1 1330.9,895.0 1331.4,896.3 1331.9,896.8 1332.4,899.5 1333.0,900.0 1333.5,900.2 1334.0,902.7 1334.6,904.7 1335.1,906.2 1335.6,907.9 1336.2,910.5 1336.7,911.3 1337.2,912.8 1337.8,914.2 1338.3,916.1 1338.8,919.1 1339.4,921.5 1339.9,924.2 1340.4,924.4 1340.9,927.8 1341.4,929.9 1341.8,931.8 1342.3,935.2 1342.8,938.2 1343.3,941.1 1343.8,943.2 1344.3,947.9 1344.8,951.0 1345.3,954.1 1345.8,957.5 1346.2,962.0 1346.7,965.0 1347.2,968.8 1347.7,974.0 1348.2,979.1 1348.7,981.8 1349.1,987.4 1349.6,993.7 1350.1,998.3 1350.5,1004.6 1351.0,1010.2 1351.5,1015.9 1351.9,1023.4 1352.4,1031.4 1352.8,1037.2 1353.3,1046.8 1353.7,1056.6 1354.2,1066.2 1354.6,1076.6 1355.0,1088.9 1355.5,1103.4 1356.0,1118.4 1356.5,1137.9 1357.0,1160.6 1357.5,1187.8 1358.0,1224.3 1358.5,1279.6 1359.0,1372.3 1359.5,1344.1 1360.0,1256.2 1360.5,1206.0 1361.0,1171.4 1361.5,1144.1 1362.0,1121.8 1362.5,1104.4 1363.0,1089.6 1363.5,1076.0 1364.0,1062.9 1364.5,1052.4 1365.0,1042.9 1365.5,1034.0 1366.0,1025.8 1366.5,1017.6 1367.0,1010.9 1367.5,1004.0 1368.0,997.9 1368.5,992.5 1369.0,986.6 1369.6,981.0 1370.1,977.3 1370.7,971.8 1371.3,966.9 1371.8,962.6 1372.4,959.2 1373.0,955.4 1373.5,950.7 1374.1,947.7 1374.6,943.2 1375.2,940.3 1375.7,936.8 1376.3,936.0 1376.8,931.8 1377.4,928.5 1377.9,926.8 1378.5,922.8 1378.9,920.6 1379.4,918.9 1379.8,915.0 1380.3,911.8 1380.8,909.3 1381.2,907.2 1381.7,904.9 1382.2,904.9 1382.6,903.1 1383.1,900.1 1383.6,898.2 1384.0,896.8 1384.5,895.6 1385.0,894.3 1385.5,893.3 1385.9,891.6 1386.4,892.2 1386.9,889.0 1387.4,887.4 1387.8,888.2 1388.3,886.0 1388.8,884.1 1389.3,882.7 1389.7,880.9 1390.2,879.4 1390.7,878.2 1391.2,878.9 1391.7,879.3 1392.2,878.2 1392.7,875.9 1393.1,876.3 1393.6,875.2 1394.1,874.2 1394.6,872.9 1395.1,872.9 1395.6,870.9 1396.0,870.1 1396.5,868.5 1397.0,867.9 1397.5,867.6 1398.0,866.6 1398.5,865.7 1399.0,865.8 1399.5,866.8 1400.0,866.5 1400.5,865.9 1401.0,865.7 1401.5,864.9 1402.0,864.8 1402.5,865.9 1403.0,864.7 1403.5,865.0 1404.0,865.3 1404.5,865.7 1405.0,867.1 1405.5,868.5 1406.0,867.4 1406.5,866.4 1407.0,865.4 1407.5,866.7 1408.0,867.1 1408.5,867.7 1409.0,867.5 1409.5,868.7 1410.0,869.9 1410.5,871.5 1411.0,871.9 1411.5,871.6 1412.0,873.6 1412.5,874.5 1413.0,874.1 1413.5,875.8 1414.0,878.3 1414.5,879.3 1415.0,879.0 1415.5,879.9 1416.0,881.6 1416.5,883.0 1417.0,882.9 1417.5,885.4 1418.0,885.3 1418.5,887.3 1418.9,888.0" fill="none" stroke="#086CB5" stroke-width="2.6" stroke-linejoin="round" clip-path="url(#c3)"/>
<rect x="862.5" y="788.2" width="556.4" height="36.3" fill="rgb(183,227,155)" fill-opacity="0.25"/>
<rect x="862.5" y="824.5" width="556.4" height="48.5" fill="rgb(128,0,128)" fill-opacity="0.165"/>
<text x="877.62" y="820.20" font-size="32" textLength="63.99" lengthAdjust="spacing" fill="#000" stroke="#000" stroke-width="0.4">Loss</text>
<text x="952.37" y="820.20" font-size="32" textLength="28.04" lengthAdjust="spacing" fill="#000" stroke="#000" stroke-width="0.4">of</text>
<text x="990.90" y="820.20" font-size="32" textLength="46.39" lengthAdjust="spacing" fill="#000" stroke="#000" stroke-width="0.4">the</text>
<text x="1047.65" y="820.20" font-size="32" textLength="89.55" lengthAdjust="spacing" fill="#000" stroke="#000" stroke-width="0.4">hybrid</text>
<text x="1148.15" y="820.20" font-size="32" textLength="147.26" lengthAdjust="spacing" fill="#000" stroke="#000" stroke-width="0.4">modulator</text>
<text x="877.62" y="861.70" font-size="32" textLength="66.19" lengthAdjust="spacing" fill="#000" stroke="#000" stroke-width="0.4">Loss</text>
<text x="954.67" y="861.70" font-size="32" textLength="28.04" lengthAdjust="spacing" fill="#000" stroke="#000" stroke-width="0.4">of</text>
<text x="993.90" y="861.70" font-size="32" textLength="46.39" lengthAdjust="spacing" fill="#000" stroke="#000" stroke-width="0.4">the</text>
<text x="1051.67" y="861.70" font-size="32" textLength="87.94" lengthAdjust="spacing" fill="#000" stroke="#000" stroke-width="0.4">silicon</text>
<text x="1152.87" y="861.70" font-size="32" textLength="177.96" lengthAdjust="spacing" fill="#000" stroke="#000" stroke-width="0.4">components</text>
<text x="858.81" y="759.50" font-size="37.4" font-weight="bold" textLength="207.00" lengthAdjust="spacingAndGlyphs" fill="#000" stroke="#000" stroke-width="0.7">Modulator</text>
<text x="1078.13" y="759.50" font-size="37.4" font-weight="bold" textLength="24.33" lengthAdjust="spacingAndGlyphs" fill="#000" stroke="#000" stroke-width="0.7">4</text>
<text x="827.77" y="804.00" font-size="38" fill="#262626">0</text>
<text x="793.98" y="931.58" font-size="38" fill="#262626">-</text>
<path transform="translate(806.63,931.58) scale(0.018555,-0.018555)" d="M763 0H583V1147Q518 1085 412 1023T223 930V1104Q373 1174 485 1274T645 1466H763Z" fill="#262626"/>
<text x="827.77" y="931.58" font-size="38" fill="#262626">0</text>
<text x="793.98" y="1059.15" font-size="38" fill="#262626">-</text>
<text x="806.63" y="1059.15" font-size="38" fill="#262626">2</text>
<text x="827.77" y="1059.15" font-size="38" fill="#262626">0</text>
<text x="793.98" y="1186.72" font-size="38" fill="#262626">-</text>
<text x="806.63" y="1186.72" font-size="38" fill="#262626">3</text>
<text x="827.77" y="1186.72" font-size="38" fill="#262626">0</text>
<text x="793.98" y="1314.30" font-size="38" fill="#262626">-</text>
<text x="806.63" y="1314.30" font-size="38" fill="#262626">4</text>
<text x="827.77" y="1314.30" font-size="38" fill="#262626">0</text>
<path transform="translate(820.23,1351.10) scale(0.018555,-0.018555)" d="M763 0H583V1147Q518 1085 412 1023T223 930V1104Q373 1174 485 1274T645 1466H763Z" fill="#262626"/>
<text x="841.37" y="1351.10" font-size="38" fill="#262626">3</text>
<text x="862.50" y="1351.10" font-size="38" fill="#262626">0</text>
<text x="883.63" y="1351.10" font-size="38" fill="#262626">0</text>
<path transform="translate(931.51,1351.10) scale(0.018555,-0.018555)" d="M763 0H583V1147Q518 1085 412 1023T223 930V1104Q373 1174 485 1274T645 1466H763Z" fill="#262626"/>
<text x="952.65" y="1351.10" font-size="38" fill="#262626">3</text>
<text x="973.78" y="1351.10" font-size="38" fill="#262626">0</text>
<text x="994.91" y="1351.10" font-size="38" fill="#262626">5</text>
<path transform="translate(1042.79,1351.10) scale(0.018555,-0.018555)" d="M763 0H583V1147Q518 1085 412 1023T223 930V1104Q373 1174 485 1274T645 1466H763Z" fill="#262626"/>
<text x="1063.93" y="1351.10" font-size="38" fill="#262626">3</text>
<path transform="translate(1085.06,1351.10) scale(0.018555,-0.018555)" d="M763 0H583V1147Q518 1085 412 1023T223 930V1104Q373 1174 485 1274T645 1466H763Z" fill="#262626"/>
<text x="1106.19" y="1351.10" font-size="38" fill="#262626">0</text>
<path transform="translate(1154.07,1351.10) scale(0.018555,-0.018555)" d="M763 0H583V1147Q518 1085 412 1023T223 930V1104Q373 1174 485 1274T645 1466H763Z" fill="#262626"/>
<text x="1175.21" y="1351.10" font-size="38" fill="#262626">3</text>
<path transform="translate(1196.34,1351.10) scale(0.018555,-0.018555)" d="M763 0H583V1147Q518 1085 412 1023T223 930V1104Q373 1174 485 1274T645 1466H763Z" fill="#262626"/>
<text x="1217.47" y="1351.10" font-size="38" fill="#262626">5</text>
<path transform="translate(1265.35,1351.10) scale(0.018555,-0.018555)" d="M763 0H583V1147Q518 1085 412 1023T223 930V1104Q373 1174 485 1274T645 1466H763Z" fill="#262626"/>
<text x="1286.49" y="1351.10" font-size="38" fill="#262626">3</text>
<text x="1307.62" y="1351.10" font-size="38" fill="#262626">2</text>
<text x="1328.75" y="1351.10" font-size="38" fill="#262626">0</text>
<path transform="translate(1376.63,1351.10) scale(0.018555,-0.018555)" d="M763 0H583V1147Q518 1085 412 1023T223 930V1104Q373 1174 485 1274T645 1466H763Z" fill="#262626"/>
<text x="1397.77" y="1351.10" font-size="38" fill="#262626">3</text>
<text x="1418.90" y="1351.10" font-size="38" fill="#262626">2</text>
<text x="1440.03" y="1351.10" font-size="38" fill="#262626">5</text>
<text x="1140.7" y="1406.0" font-size="41.8" text-anchor="middle" fill="#262626">Wavelength (nm)</text>
<text transform="translate(777.0,1043.3) rotate(-90)" x="0" y="0" font-size="41.8" text-anchor="middle" fill="#262626">T (dB)</text>
</svg></body></html>
